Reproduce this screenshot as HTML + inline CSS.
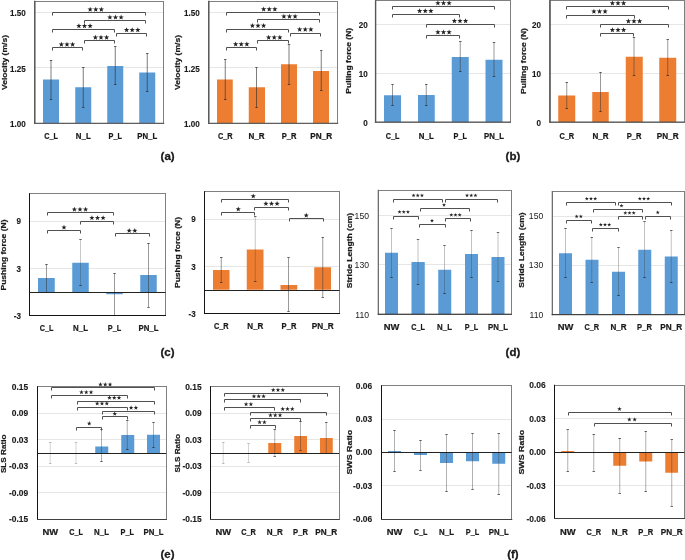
<!DOCTYPE html>
<html><head><meta charset="utf-8"><style>
html,body{margin:0;padding:0;background:#fff;}
svg{display:block;font-family:"Liberation Sans", sans-serif;will-change:transform;}
</style></head><body>
<svg width="685" height="560" viewBox="0 0 685 560">
<rect width="685" height="560" fill="#fff"/>
<line x1="34.50" y1="12.50" x2="163.75" y2="12.50" stroke="#e6e6e6" stroke-width="1"/>
<line x1="34.50" y1="67.50" x2="163.75" y2="67.50" stroke="#e6e6e6" stroke-width="1"/>
<rect x="43.00" y="79.50" width="16.00" height="43.75" fill="#5b9bd5"/>
<rect x="75.25" y="87.25" width="16.00" height="36.00" fill="#5b9bd5"/>
<rect x="107.25" y="66.00" width="16.00" height="57.25" fill="#5b9bd5"/>
<rect x="139.25" y="72.50" width="16.00" height="50.75" fill="#5b9bd5"/>
<line x1="51.00" y1="60.00" x2="51.00" y2="99.25" stroke="#303030" stroke-opacity="0.7" stroke-width="0.9"/>
<line x1="49.75" y1="60.50" x2="52.25" y2="60.50" stroke="#202020" stroke-opacity="0.65" stroke-width="1"/>
<line x1="49.75" y1="99.50" x2="52.25" y2="99.50" stroke="#202020" stroke-opacity="0.65" stroke-width="1"/>
<line x1="83.25" y1="67.25" x2="83.25" y2="107.00" stroke="#303030" stroke-opacity="0.7" stroke-width="0.9"/>
<line x1="82.00" y1="67.50" x2="84.50" y2="67.50" stroke="#202020" stroke-opacity="0.65" stroke-width="1"/>
<line x1="82.00" y1="107.50" x2="84.50" y2="107.50" stroke="#202020" stroke-opacity="0.65" stroke-width="1"/>
<line x1="115.25" y1="46.50" x2="115.25" y2="84.50" stroke="#303030" stroke-opacity="0.7" stroke-width="0.9"/>
<line x1="114.00" y1="46.50" x2="116.50" y2="46.50" stroke="#202020" stroke-opacity="0.65" stroke-width="1"/>
<line x1="114.00" y1="84.50" x2="116.50" y2="84.50" stroke="#202020" stroke-opacity="0.65" stroke-width="1"/>
<line x1="147.25" y1="53.25" x2="147.25" y2="91.50" stroke="#303030" stroke-opacity="0.7" stroke-width="0.9"/>
<line x1="146.00" y1="53.50" x2="148.50" y2="53.50" stroke="#202020" stroke-opacity="0.65" stroke-width="1"/>
<line x1="146.00" y1="91.50" x2="148.50" y2="91.50" stroke="#202020" stroke-opacity="0.65" stroke-width="1"/>
<rect x="34.50" y="1.50" width="129.00" height="122.00" fill="none" stroke="#7f7f7f" stroke-width="1"/>
<line x1="34.85" y1="0.75" x2="34.85" y2="123.80" stroke="#555555" stroke-width="1.4"/>
<line x1="34.15" y1="123.25" x2="164.25" y2="123.25" stroke="#555555" stroke-width="1.1"/>
<path d="M52.50 15.50V12.50H145.50V15.50" fill="none" stroke="#505050" stroke-width="1"/>
<polygon points="90.15,6.65 90.82,8.58 92.86,8.62 91.23,9.85 91.83,11.81 90.15,10.64 88.47,11.81 89.07,9.85 87.44,8.62 89.48,8.58" fill="#222222"/>
<polygon points="95.75,6.65 96.42,8.58 98.46,8.62 96.83,9.85 97.43,11.81 95.75,10.64 94.07,11.81 94.67,9.85 93.04,8.62 95.08,8.58" fill="#222222"/>
<polygon points="101.35,6.65 102.02,8.58 104.06,8.62 102.43,9.85 103.03,11.81 101.35,10.64 99.67,11.81 100.27,9.85 98.64,8.62 100.68,8.58" fill="#222222"/>
<path d="M84.50 23.50V20.50H145.50V23.50" fill="none" stroke="#505050" stroke-width="1"/>
<polygon points="109.90,14.45 110.57,16.38 112.61,16.42 110.98,17.65 111.58,19.61 109.90,18.44 108.22,19.61 108.82,17.65 107.19,16.42 109.23,16.38" fill="#222222"/>
<polygon points="115.50,14.45 116.17,16.38 118.21,16.42 116.58,17.65 117.18,19.61 115.50,18.44 113.82,19.61 114.42,17.65 112.79,16.42 114.83,16.38" fill="#222222"/>
<polygon points="121.10,14.45 121.77,16.38 123.81,16.42 122.18,17.65 122.78,19.61 121.10,18.44 119.42,19.61 120.02,17.65 118.39,16.42 120.43,16.38" fill="#222222"/>
<path d="M52.50 32.50V29.50H114.50V32.50" fill="none" stroke="#505050" stroke-width="1"/>
<polygon points="78.90,23.15 79.57,25.08 81.61,25.12 79.98,26.35 80.58,28.31 78.90,27.14 77.22,28.31 77.82,26.35 76.19,25.12 78.23,25.08" fill="#222222"/>
<polygon points="84.50,23.15 85.17,25.08 87.21,25.12 85.58,26.35 86.18,28.31 84.50,27.14 82.82,28.31 83.42,26.35 81.79,25.12 83.83,25.08" fill="#222222"/>
<polygon points="90.10,23.15 90.77,25.08 92.81,25.12 91.18,26.35 91.78,28.31 90.10,27.14 88.42,28.31 89.02,26.35 87.39,25.12 89.43,25.08" fill="#222222"/>
<path d="M116.50 36.50V33.50H146.50V36.50" fill="none" stroke="#505050" stroke-width="1"/>
<polygon points="126.60,27.15 127.27,29.08 129.31,29.12 127.68,30.35 128.28,32.31 126.60,31.14 124.92,32.31 125.52,30.35 123.89,29.12 125.93,29.08" fill="#222222"/>
<polygon points="132.20,27.15 132.87,29.08 134.91,29.12 133.28,30.35 133.88,32.31 132.20,31.14 130.52,32.31 131.12,30.35 129.49,29.12 131.53,29.08" fill="#222222"/>
<polygon points="137.80,27.15 138.47,29.08 140.51,29.12 138.88,30.35 139.48,32.31 137.80,31.14 136.12,32.31 136.72,30.35 135.09,29.12 137.13,29.08" fill="#222222"/>
<path d="M84.50 43.50V40.50H114.50V43.50" fill="none" stroke="#505050" stroke-width="1"/>
<polygon points="95.40,34.65 96.07,36.58 98.11,36.62 96.48,37.85 97.08,39.81 95.40,38.64 93.72,39.81 94.32,37.85 92.69,36.62 94.73,36.58" fill="#222222"/>
<polygon points="101.00,34.65 101.67,36.58 103.71,36.62 102.08,37.85 102.68,39.81 101.00,38.64 99.32,39.81 99.92,37.85 98.29,36.62 100.33,36.58" fill="#222222"/>
<polygon points="106.60,34.65 107.27,36.58 109.31,36.62 107.68,37.85 108.28,39.81 106.60,38.64 104.92,39.81 105.52,37.85 103.89,36.62 105.93,36.58" fill="#222222"/>
<path d="M52.50 50.50V47.50H82.50V50.50" fill="none" stroke="#505050" stroke-width="1"/>
<polygon points="61.40,41.65 62.07,43.58 64.11,43.62 62.48,44.85 63.08,46.81 61.40,45.64 59.72,46.81 60.32,44.85 58.69,43.62 60.73,43.58" fill="#222222"/>
<polygon points="67.00,41.65 67.67,43.58 69.71,43.62 68.08,44.85 68.68,46.81 67.00,45.64 65.32,46.81 65.92,44.85 64.29,43.62 66.33,43.58" fill="#222222"/>
<polygon points="72.60,41.65 73.27,43.58 75.31,43.62 73.68,44.85 74.28,46.81 72.60,45.64 70.92,46.81 71.52,44.85 69.89,43.62 71.93,43.58" fill="#222222"/>
<text transform="translate(25.75,15.80) scale(0.92,1)" font-size="8.8" text-anchor="end" font-weight="bold" fill="#1a1a1a" stroke="#1a1a1a" stroke-width="0.12">1.50</text>
<text transform="translate(25.75,71.55) scale(0.92,1)" font-size="8.8" text-anchor="end" font-weight="bold" fill="#1a1a1a" stroke="#1a1a1a" stroke-width="0.12">1.25</text>
<text transform="translate(25.75,127.05) scale(0.92,1)" font-size="8.8" text-anchor="end" font-weight="bold" fill="#1a1a1a" stroke="#1a1a1a" stroke-width="0.12">1.00</text>
<text transform="translate(6.50,62.50) rotate(-90) scale(1.067,1)" font-size="8.0" text-anchor="middle" font-weight="bold" fill="#1a1a1a" stroke="#1a1a1a" stroke-width="0.22">Velocity (m/s)</text>
<text transform="translate(51.00,138.95) scale(0.876,1)" font-size="8.3" text-anchor="middle" font-weight="bold" fill="#1a1a1a" stroke="#1a1a1a" stroke-width="0.22">C_L</text>
<text transform="translate(83.25,138.95) scale(0.949,1)" font-size="8.3" text-anchor="middle" font-weight="bold" fill="#1a1a1a" stroke="#1a1a1a" stroke-width="0.22">N_L</text>
<text transform="translate(115.25,138.95) scale(0.882,1)" font-size="8.3" text-anchor="middle" font-weight="bold" fill="#1a1a1a" stroke="#1a1a1a" stroke-width="0.22">P_L</text>
<text transform="translate(147.25,138.95) scale(0.941,1)" font-size="8.3" text-anchor="middle" font-weight="bold" fill="#1a1a1a" stroke="#1a1a1a" stroke-width="0.22">PN_L</text>
<line x1="208.50" y1="12.50" x2="337.75" y2="12.50" stroke="#e6e6e6" stroke-width="1"/>
<line x1="208.50" y1="67.50" x2="337.75" y2="67.50" stroke="#e6e6e6" stroke-width="1"/>
<rect x="217.00" y="79.50" width="15.75" height="43.75" fill="#ed7d31"/>
<rect x="248.75" y="87.25" width="16.25" height="36.00" fill="#ed7d31"/>
<rect x="281.00" y="64.25" width="16.00" height="59.00" fill="#ed7d31"/>
<rect x="313.00" y="71.00" width="16.00" height="52.25" fill="#ed7d31"/>
<line x1="225.25" y1="59.25" x2="225.25" y2="99.50" stroke="#303030" stroke-opacity="0.7" stroke-width="0.9"/>
<line x1="224.00" y1="59.50" x2="226.50" y2="59.50" stroke="#202020" stroke-opacity="0.65" stroke-width="1"/>
<line x1="224.00" y1="99.50" x2="226.50" y2="99.50" stroke="#202020" stroke-opacity="0.65" stroke-width="1"/>
<line x1="256.50" y1="67.75" x2="256.50" y2="107.50" stroke="#303030" stroke-opacity="0.7" stroke-width="0.9"/>
<line x1="255.25" y1="67.50" x2="257.75" y2="67.50" stroke="#202020" stroke-opacity="0.65" stroke-width="1"/>
<line x1="255.25" y1="107.50" x2="257.75" y2="107.50" stroke="#202020" stroke-opacity="0.65" stroke-width="1"/>
<line x1="289.00" y1="44.00" x2="289.00" y2="84.50" stroke="#303030" stroke-opacity="0.7" stroke-width="0.9"/>
<line x1="287.75" y1="44.50" x2="290.25" y2="44.50" stroke="#202020" stroke-opacity="0.65" stroke-width="1"/>
<line x1="287.75" y1="84.50" x2="290.25" y2="84.50" stroke="#202020" stroke-opacity="0.65" stroke-width="1"/>
<line x1="321.25" y1="50.50" x2="321.25" y2="90.50" stroke="#303030" stroke-opacity="0.7" stroke-width="0.9"/>
<line x1="320.00" y1="50.50" x2="322.50" y2="50.50" stroke="#202020" stroke-opacity="0.65" stroke-width="1"/>
<line x1="320.00" y1="90.50" x2="322.50" y2="90.50" stroke="#202020" stroke-opacity="0.65" stroke-width="1"/>
<rect x="208.50" y="1.50" width="129.00" height="122.00" fill="none" stroke="#7f7f7f" stroke-width="1"/>
<line x1="208.85" y1="0.75" x2="208.85" y2="123.80" stroke="#555555" stroke-width="1.4"/>
<line x1="208.15" y1="123.25" x2="338.25" y2="123.25" stroke="#555555" stroke-width="1.1"/>
<path d="M226.50 15.50V12.50H319.50V15.50" fill="none" stroke="#505050" stroke-width="1"/>
<polygon points="263.65,6.40 264.32,8.33 266.36,8.37 264.73,9.60 265.33,11.56 263.65,10.39 261.97,11.56 262.57,9.60 260.94,8.37 262.98,8.33" fill="#222222"/>
<polygon points="269.25,6.40 269.92,8.33 271.96,8.37 270.33,9.60 270.93,11.56 269.25,10.39 267.57,11.56 268.17,9.60 266.54,8.37 268.58,8.33" fill="#222222"/>
<polygon points="274.85,6.40 275.52,8.33 277.56,8.37 275.93,9.60 276.53,11.56 274.85,10.39 273.17,11.56 273.77,9.60 272.14,8.37 274.18,8.33" fill="#222222"/>
<path d="M257.50 22.50V19.50H319.50V22.50" fill="none" stroke="#505050" stroke-width="1"/>
<polygon points="283.90,13.65 284.57,15.58 286.61,15.62 284.98,16.85 285.58,18.81 283.90,17.64 282.22,18.81 282.82,16.85 281.19,15.62 283.23,15.58" fill="#222222"/>
<polygon points="289.50,13.65 290.17,15.58 292.21,15.62 290.58,16.85 291.18,18.81 289.50,17.64 287.82,18.81 288.42,16.85 286.79,15.62 288.83,15.58" fill="#222222"/>
<polygon points="295.10,13.65 295.77,15.58 297.81,15.62 296.18,16.85 296.78,18.81 295.10,17.64 293.42,18.81 294.02,16.85 292.39,15.62 294.43,15.58" fill="#222222"/>
<path d="M226.50 32.50V29.50H288.50V32.50" fill="none" stroke="#505050" stroke-width="1"/>
<polygon points="252.40,22.90 253.07,24.83 255.11,24.87 253.48,26.10 254.08,28.06 252.40,26.89 250.72,28.06 251.32,26.10 249.69,24.87 251.73,24.83" fill="#222222"/>
<polygon points="258.00,22.90 258.67,24.83 260.71,24.87 259.08,26.10 259.68,28.06 258.00,26.89 256.32,28.06 256.92,26.10 255.29,24.87 257.33,24.83" fill="#222222"/>
<polygon points="263.60,22.90 264.27,24.83 266.31,24.87 264.68,26.10 265.28,28.06 263.60,26.89 261.92,28.06 262.52,26.10 260.89,24.87 262.93,24.83" fill="#222222"/>
<path d="M290.50 36.50V33.50H320.50V36.50" fill="none" stroke="#505050" stroke-width="1"/>
<polygon points="299.65,26.65 300.32,28.58 302.36,28.62 300.73,29.85 301.33,31.81 299.65,30.64 297.97,31.81 298.57,29.85 296.94,28.62 298.98,28.58" fill="#222222"/>
<polygon points="305.25,26.65 305.92,28.58 307.96,28.62 306.33,29.85 306.93,31.81 305.25,30.64 303.57,31.81 304.17,29.85 302.54,28.62 304.58,28.58" fill="#222222"/>
<polygon points="310.85,26.65 311.52,28.58 313.56,28.62 311.93,29.85 312.53,31.81 310.85,30.64 309.17,31.81 309.77,29.85 308.14,28.62 310.18,28.58" fill="#222222"/>
<path d="M257.50 43.50V40.50H288.50V43.50" fill="none" stroke="#505050" stroke-width="1"/>
<polygon points="268.65,34.65 269.32,36.58 271.36,36.62 269.73,37.85 270.33,39.81 268.65,38.64 266.97,39.81 267.57,37.85 265.94,36.62 267.98,36.58" fill="#222222"/>
<polygon points="274.25,34.65 274.92,36.58 276.96,36.62 275.33,37.85 275.93,39.81 274.25,38.64 272.57,39.81 273.17,37.85 271.54,36.62 273.58,36.58" fill="#222222"/>
<polygon points="279.85,34.65 280.52,36.58 282.56,36.62 280.93,37.85 281.53,39.81 279.85,38.64 278.17,39.81 278.77,37.85 277.14,36.62 279.18,36.58" fill="#222222"/>
<path d="M226.50 50.50V47.50H256.50V50.50" fill="none" stroke="#505050" stroke-width="1"/>
<polygon points="235.65,41.40 236.32,43.33 238.36,43.37 236.73,44.60 237.33,46.56 235.65,45.39 233.97,46.56 234.57,44.60 232.94,43.37 234.98,43.33" fill="#222222"/>
<polygon points="241.25,41.40 241.92,43.33 243.96,43.37 242.33,44.60 242.93,46.56 241.25,45.39 239.57,46.56 240.17,44.60 238.54,43.37 240.58,43.33" fill="#222222"/>
<polygon points="246.85,41.40 247.52,43.33 249.56,43.37 247.93,44.60 248.53,46.56 246.85,45.39 245.17,46.56 245.77,44.60 244.14,43.37 246.18,43.33" fill="#222222"/>
<text transform="translate(199.75,15.80) scale(0.92,1)" font-size="8.8" text-anchor="end" font-weight="bold" fill="#1a1a1a" stroke="#1a1a1a" stroke-width="0.12">1.50</text>
<text transform="translate(199.75,71.55) scale(0.92,1)" font-size="8.8" text-anchor="end" font-weight="bold" fill="#1a1a1a" stroke="#1a1a1a" stroke-width="0.12">1.25</text>
<text transform="translate(199.75,127.05) scale(0.92,1)" font-size="8.8" text-anchor="end" font-weight="bold" fill="#1a1a1a" stroke="#1a1a1a" stroke-width="0.12">1.00</text>
<text transform="translate(180.00,62.50) rotate(-90) scale(1.067,1)" font-size="8.0" text-anchor="middle" font-weight="bold" fill="#1a1a1a" stroke="#1a1a1a" stroke-width="0.22">Velocity (m/s)</text>
<text transform="translate(225.25,138.95) scale(0.889,1)" font-size="8.3" text-anchor="middle" font-weight="bold" fill="#1a1a1a" stroke="#1a1a1a" stroke-width="0.22">C_R</text>
<text transform="translate(256.50,138.95) scale(0.971,1)" font-size="8.3" text-anchor="middle" font-weight="bold" fill="#1a1a1a" stroke="#1a1a1a" stroke-width="0.22">N_R</text>
<text transform="translate(289.00,138.95) scale(0.915,1)" font-size="8.3" text-anchor="middle" font-weight="bold" fill="#1a1a1a" stroke="#1a1a1a" stroke-width="0.22">P_R</text>
<text transform="translate(321.25,138.95) scale(0.986,1)" font-size="8.3" text-anchor="middle" font-weight="bold" fill="#1a1a1a" stroke="#1a1a1a" stroke-width="0.22">PN_R</text>
<line x1="375.25" y1="24.50" x2="510.50" y2="24.50" stroke="#e6e6e6" stroke-width="1"/>
<line x1="375.25" y1="73.50" x2="510.50" y2="73.50" stroke="#e6e6e6" stroke-width="1"/>
<rect x="384.00" y="95.25" width="17.00" height="26.75" fill="#5b9bd5"/>
<rect x="418.00" y="95.00" width="16.75" height="27.00" fill="#5b9bd5"/>
<rect x="451.75" y="57.00" width="17.00" height="65.00" fill="#5b9bd5"/>
<rect x="485.50" y="59.75" width="17.00" height="62.25" fill="#5b9bd5"/>
<line x1="392.50" y1="84.50" x2="392.50" y2="105.50" stroke="#303030" stroke-opacity="0.55" stroke-width="0.9"/>
<line x1="391.25" y1="84.50" x2="393.75" y2="84.50" stroke="#202020" stroke-opacity="0.65" stroke-width="1"/>
<line x1="391.25" y1="105.50" x2="393.75" y2="105.50" stroke="#202020" stroke-opacity="0.65" stroke-width="1"/>
<line x1="426.25" y1="84.25" x2="426.25" y2="105.50" stroke="#303030" stroke-opacity="0.55" stroke-width="0.9"/>
<line x1="425.00" y1="84.50" x2="427.50" y2="84.50" stroke="#202020" stroke-opacity="0.65" stroke-width="1"/>
<line x1="425.00" y1="105.50" x2="427.50" y2="105.50" stroke="#202020" stroke-opacity="0.65" stroke-width="1"/>
<line x1="460.25" y1="41.25" x2="460.25" y2="71.75" stroke="#303030" stroke-opacity="0.55" stroke-width="0.9"/>
<line x1="459.00" y1="41.50" x2="461.50" y2="41.50" stroke="#202020" stroke-opacity="0.65" stroke-width="1"/>
<line x1="459.00" y1="71.50" x2="461.50" y2="71.50" stroke="#202020" stroke-opacity="0.65" stroke-width="1"/>
<line x1="494.00" y1="42.25" x2="494.00" y2="76.50" stroke="#303030" stroke-opacity="0.55" stroke-width="0.9"/>
<line x1="492.75" y1="42.50" x2="495.25" y2="42.50" stroke="#202020" stroke-opacity="0.65" stroke-width="1"/>
<line x1="492.75" y1="76.50" x2="495.25" y2="76.50" stroke="#202020" stroke-opacity="0.65" stroke-width="1"/>
<rect x="375.50" y="0.50" width="135.00" height="122.00" fill="none" stroke="#7f7f7f" stroke-width="1"/>
<line x1="375.60" y1="0.25" x2="375.60" y2="122.55" stroke="#555555" stroke-width="1.4"/>
<line x1="374.90" y1="122.00" x2="511.00" y2="122.00" stroke="#555555" stroke-width="1.1"/>
<path d="M392.50 9.50V6.50H494.50V9.50" fill="none" stroke="#505050" stroke-width="1"/>
<polygon points="437.90,0.35 438.57,2.28 440.61,2.32 438.98,3.55 439.58,5.51 437.90,4.34 436.22,5.51 436.82,3.55 435.19,2.32 437.23,2.28" fill="#222222"/>
<polygon points="443.50,0.35 444.17,2.28 446.21,2.32 444.58,3.55 445.18,5.51 443.50,4.34 441.82,5.51 442.42,3.55 440.79,2.32 442.83,2.28" fill="#222222"/>
<polygon points="449.10,0.35 449.77,2.28 451.81,2.32 450.18,3.55 450.78,5.51 449.10,4.34 447.42,5.51 448.02,3.55 446.39,2.32 448.43,2.28" fill="#222222"/>
<path d="M392.50 17.50V14.50H459.50V17.50" fill="none" stroke="#505050" stroke-width="1"/>
<polygon points="419.65,8.15 420.32,10.08 422.36,10.12 420.73,11.35 421.33,13.31 419.65,12.14 417.97,13.31 418.57,11.35 416.94,10.12 418.98,10.08" fill="#222222"/>
<polygon points="425.25,8.15 425.92,10.08 427.96,10.12 426.33,11.35 426.93,13.31 425.25,12.14 423.57,13.31 424.17,11.35 422.54,10.12 424.58,10.08" fill="#222222"/>
<polygon points="430.85,8.15 431.52,10.08 433.56,10.12 431.93,11.35 432.53,13.31 430.85,12.14 429.17,13.31 429.77,11.35 428.14,10.12 430.18,10.08" fill="#222222"/>
<path d="M426.50 27.50V24.50H494.50V27.50" fill="none" stroke="#505050" stroke-width="1"/>
<polygon points="454.40,18.15 455.07,20.08 457.11,20.12 455.48,21.35 456.08,23.31 454.40,22.14 452.72,23.31 453.32,21.35 451.69,20.12 453.73,20.08" fill="#222222"/>
<polygon points="460.00,18.15 460.67,20.08 462.71,20.12 461.08,21.35 461.68,23.31 460.00,22.14 458.32,23.31 458.92,21.35 457.29,20.12 459.33,20.08" fill="#222222"/>
<polygon points="465.60,18.15 466.27,20.08 468.31,20.12 466.68,21.35 467.28,23.31 465.60,22.14 463.92,23.31 464.52,21.35 462.89,20.12 464.93,20.08" fill="#222222"/>
<path d="M426.50 38.50V35.50H459.50V38.50" fill="none" stroke="#505050" stroke-width="1"/>
<polygon points="437.90,29.40 438.57,31.33 440.61,31.37 438.98,32.60 439.58,34.56 437.90,33.39 436.22,34.56 436.82,32.60 435.19,31.37 437.23,31.33" fill="#222222"/>
<polygon points="443.50,29.40 444.17,31.33 446.21,31.37 444.58,32.60 445.18,34.56 443.50,33.39 441.82,34.56 442.42,32.60 440.79,31.37 442.83,31.33" fill="#222222"/>
<polygon points="449.10,29.40 449.77,31.33 451.81,31.37 450.18,32.60 450.78,34.56 449.10,33.39 447.42,34.56 448.02,32.60 446.39,31.37 448.43,31.33" fill="#222222"/>
<text transform="translate(367.75,28.05) scale(0.92,1)" font-size="8.8" text-anchor="end" font-weight="bold" fill="#1a1a1a" stroke="#1a1a1a" stroke-width="0.12">20</text>
<text transform="translate(367.75,77.05) scale(0.92,1)" font-size="8.8" text-anchor="end" font-weight="bold" fill="#1a1a1a" stroke="#1a1a1a" stroke-width="0.12">10</text>
<text transform="translate(367.75,125.80) scale(0.92,1)" font-size="8.8" text-anchor="end" font-weight="bold" fill="#1a1a1a" stroke="#1a1a1a" stroke-width="0.12">0</text>
<text transform="translate(351.25,60.75) rotate(-90) scale(1.067,1)" font-size="8.0" text-anchor="middle" font-weight="bold" fill="#1a1a1a" stroke="#1a1a1a" stroke-width="0.22">Pulling force (N)</text>
<text transform="translate(392.50,138.50) scale(0.876,1)" font-size="8.3" text-anchor="middle" font-weight="bold" fill="#1a1a1a" stroke="#1a1a1a" stroke-width="0.22">C_L</text>
<text transform="translate(426.25,138.50) scale(0.949,1)" font-size="8.3" text-anchor="middle" font-weight="bold" fill="#1a1a1a" stroke="#1a1a1a" stroke-width="0.22">N_L</text>
<text transform="translate(460.25,138.50) scale(0.882,1)" font-size="8.3" text-anchor="middle" font-weight="bold" fill="#1a1a1a" stroke="#1a1a1a" stroke-width="0.22">P_L</text>
<text transform="translate(494.00,138.50) scale(0.941,1)" font-size="8.3" text-anchor="middle" font-weight="bold" fill="#1a1a1a" stroke="#1a1a1a" stroke-width="0.22">PN_L</text>
<line x1="549.75" y1="24.50" x2="684.50" y2="24.50" stroke="#e6e6e6" stroke-width="1"/>
<line x1="549.75" y1="73.50" x2="684.50" y2="73.50" stroke="#e6e6e6" stroke-width="1"/>
<rect x="558.25" y="95.50" width="17.00" height="26.50" fill="#ed7d31"/>
<rect x="592.25" y="92.00" width="16.50" height="30.00" fill="#ed7d31"/>
<rect x="625.75" y="56.75" width="17.00" height="65.25" fill="#ed7d31"/>
<rect x="659.25" y="57.75" width="17.00" height="64.25" fill="#ed7d31"/>
<line x1="566.75" y1="82.25" x2="566.75" y2="108.25" stroke="#303030" stroke-opacity="0.55" stroke-width="0.9"/>
<line x1="565.50" y1="82.50" x2="568.00" y2="82.50" stroke="#202020" stroke-opacity="0.65" stroke-width="1"/>
<line x1="565.50" y1="108.50" x2="568.00" y2="108.50" stroke="#202020" stroke-opacity="0.65" stroke-width="1"/>
<line x1="600.50" y1="72.25" x2="600.50" y2="111.50" stroke="#303030" stroke-opacity="0.55" stroke-width="0.9"/>
<line x1="599.25" y1="72.50" x2="601.75" y2="72.50" stroke="#202020" stroke-opacity="0.65" stroke-width="1"/>
<line x1="599.25" y1="111.50" x2="601.75" y2="111.50" stroke="#202020" stroke-opacity="0.65" stroke-width="1"/>
<line x1="634.00" y1="37.00" x2="634.00" y2="75.50" stroke="#303030" stroke-opacity="0.55" stroke-width="0.9"/>
<line x1="632.75" y1="37.50" x2="635.25" y2="37.50" stroke="#202020" stroke-opacity="0.65" stroke-width="1"/>
<line x1="632.75" y1="75.50" x2="635.25" y2="75.50" stroke="#202020" stroke-opacity="0.65" stroke-width="1"/>
<line x1="667.75" y1="39.25" x2="667.75" y2="75.75" stroke="#303030" stroke-opacity="0.55" stroke-width="0.9"/>
<line x1="666.50" y1="39.50" x2="669.00" y2="39.50" stroke="#202020" stroke-opacity="0.65" stroke-width="1"/>
<line x1="666.50" y1="75.50" x2="669.00" y2="75.50" stroke="#202020" stroke-opacity="0.65" stroke-width="1"/>
<rect x="549.50" y="0.50" width="135.00" height="122.00" fill="none" stroke="#7f7f7f" stroke-width="1"/>
<line x1="550.10" y1="0.25" x2="550.10" y2="122.55" stroke="#555555" stroke-width="1.4"/>
<line x1="549.40" y1="122.00" x2="685.00" y2="122.00" stroke="#555555" stroke-width="1.1"/>
<path d="M566.50 9.50V6.50H668.50V9.50" fill="none" stroke="#505050" stroke-width="1"/>
<polygon points="612.40,0.40 613.07,2.33 615.11,2.37 613.48,3.60 614.08,5.56 612.40,4.39 610.72,5.56 611.32,3.60 609.69,2.37 611.73,2.33" fill="#222222"/>
<polygon points="618.00,0.40 618.67,2.33 620.71,2.37 619.08,3.60 619.68,5.56 618.00,4.39 616.32,5.56 616.92,3.60 615.29,2.37 617.33,2.33" fill="#222222"/>
<polygon points="623.60,0.40 624.27,2.33 626.31,2.37 624.68,3.60 625.28,5.56 623.60,4.39 621.92,5.56 622.52,3.60 620.89,2.37 622.93,2.33" fill="#222222"/>
<path d="M566.50 18.50V15.50H634.50V18.50" fill="none" stroke="#505050" stroke-width="1"/>
<polygon points="593.90,8.65 594.57,10.58 596.61,10.62 594.98,11.85 595.58,13.81 593.90,12.64 592.22,13.81 592.82,11.85 591.19,10.62 593.23,10.58" fill="#222222"/>
<polygon points="599.50,8.65 600.17,10.58 602.21,10.62 600.58,11.85 601.18,13.81 599.50,12.64 597.82,13.81 598.42,11.85 596.79,10.62 598.83,10.58" fill="#222222"/>
<polygon points="605.10,8.65 605.77,10.58 607.81,10.62 606.18,11.85 606.78,13.81 605.10,12.64 603.42,13.81 604.02,11.85 602.39,10.62 604.43,10.58" fill="#222222"/>
<path d="M600.50 27.50V24.50H668.50V27.50" fill="none" stroke="#505050" stroke-width="1"/>
<polygon points="628.40,18.40 629.07,20.33 631.11,20.37 629.48,21.60 630.08,23.56 628.40,22.39 626.72,23.56 627.32,21.60 625.69,20.37 627.73,20.33" fill="#222222"/>
<polygon points="634.00,18.40 634.67,20.33 636.71,20.37 635.08,21.60 635.68,23.56 634.00,22.39 632.32,23.56 632.92,21.60 631.29,20.37 633.33,20.33" fill="#222222"/>
<polygon points="639.60,18.40 640.27,20.33 642.31,20.37 640.68,21.60 641.28,23.56 639.60,22.39 637.92,23.56 638.52,21.60 636.89,20.37 638.93,20.33" fill="#222222"/>
<path d="M600.50 36.50V33.50H633.50V36.50" fill="none" stroke="#505050" stroke-width="1"/>
<polygon points="612.40,27.15 613.07,29.08 615.11,29.12 613.48,30.35 614.08,32.31 612.40,31.14 610.72,32.31 611.32,30.35 609.69,29.12 611.73,29.08" fill="#222222"/>
<polygon points="618.00,27.15 618.67,29.08 620.71,29.12 619.08,30.35 619.68,32.31 618.00,31.14 616.32,32.31 616.92,30.35 615.29,29.12 617.33,29.08" fill="#222222"/>
<polygon points="623.60,27.15 624.27,29.08 626.31,29.12 624.68,30.35 625.28,32.31 623.60,31.14 621.92,32.31 622.52,30.35 620.89,29.12 622.93,29.08" fill="#222222"/>
<text transform="translate(541.00,28.30) scale(0.92,1)" font-size="8.8" text-anchor="end" font-weight="bold" fill="#1a1a1a" stroke="#1a1a1a" stroke-width="0.12">20</text>
<text transform="translate(541.00,77.05) scale(0.92,1)" font-size="8.8" text-anchor="end" font-weight="bold" fill="#1a1a1a" stroke="#1a1a1a" stroke-width="0.12">10</text>
<text transform="translate(541.00,125.80) scale(0.92,1)" font-size="8.8" text-anchor="end" font-weight="bold" fill="#1a1a1a" stroke="#1a1a1a" stroke-width="0.12">0</text>
<text transform="translate(526.00,61.00) rotate(-90) scale(1.067,1)" font-size="8.0" text-anchor="middle" font-weight="bold" fill="#1a1a1a" stroke="#1a1a1a" stroke-width="0.22">Pulling force (N)</text>
<text transform="translate(566.75,138.50) scale(0.889,1)" font-size="8.3" text-anchor="middle" font-weight="bold" fill="#1a1a1a" stroke="#1a1a1a" stroke-width="0.22">C_R</text>
<text transform="translate(600.50,138.50) scale(0.971,1)" font-size="8.3" text-anchor="middle" font-weight="bold" fill="#1a1a1a" stroke="#1a1a1a" stroke-width="0.22">N_R</text>
<text transform="translate(634.00,138.50) scale(0.915,1)" font-size="8.3" text-anchor="middle" font-weight="bold" fill="#1a1a1a" stroke="#1a1a1a" stroke-width="0.22">P_R</text>
<text transform="translate(667.75,138.50) scale(0.986,1)" font-size="8.3" text-anchor="middle" font-weight="bold" fill="#1a1a1a" stroke="#1a1a1a" stroke-width="0.22">PN_R</text>
<line x1="29.50" y1="221.50" x2="165.50" y2="221.50" stroke="#e6e6e6" stroke-width="1"/>
<line x1="29.50" y1="268.50" x2="165.50" y2="268.50" stroke="#e6e6e6" stroke-width="1"/>
<rect x="38.00" y="278.00" width="16.75" height="14.00" fill="#5b9bd5"/>
<rect x="72.25" y="262.75" width="16.50" height="29.25" fill="#5b9bd5"/>
<rect x="106.25" y="292.00" width="16.50" height="2.25" fill="#5b9bd5"/>
<rect x="140.25" y="275.00" width="16.50" height="17.00" fill="#5b9bd5"/>
<line x1="46.50" y1="264.25" x2="46.50" y2="292.00" stroke="#303030" stroke-opacity="0.55" stroke-width="0.9"/>
<line x1="45.25" y1="264.50" x2="47.75" y2="264.50" stroke="#202020" stroke-opacity="0.65" stroke-width="1"/>
<line x1="45.25" y1="292.50" x2="47.75" y2="292.50" stroke="#202020" stroke-opacity="0.65" stroke-width="1"/>
<line x1="80.50" y1="239.25" x2="80.50" y2="285.50" stroke="#303030" stroke-opacity="0.3" stroke-width="0.9"/>
<line x1="79.25" y1="239.50" x2="81.75" y2="239.50" stroke="#202020" stroke-opacity="0.65" stroke-width="1"/>
<line x1="79.25" y1="285.50" x2="81.75" y2="285.50" stroke="#202020" stroke-opacity="0.65" stroke-width="1"/>
<line x1="114.50" y1="273.25" x2="114.50" y2="315.50" stroke="#303030" stroke-opacity="0.55" stroke-width="0.9"/>
<line x1="113.25" y1="273.50" x2="115.75" y2="273.50" stroke="#202020" stroke-opacity="0.65" stroke-width="1"/>
<line x1="113.25" y1="315.50" x2="115.75" y2="315.50" stroke="#202020" stroke-opacity="0.65" stroke-width="1"/>
<line x1="148.50" y1="243.00" x2="148.50" y2="307.00" stroke="#303030" stroke-opacity="0.55" stroke-width="0.9"/>
<line x1="147.25" y1="243.50" x2="149.75" y2="243.50" stroke="#202020" stroke-opacity="0.65" stroke-width="1"/>
<line x1="147.25" y1="307.50" x2="149.75" y2="307.50" stroke="#202020" stroke-opacity="0.65" stroke-width="1"/>
<rect x="29.50" y="193.50" width="136.00" height="122.00" fill="none" stroke="#7f7f7f" stroke-width="1"/>
<line x1="29.50" y1="193.25" x2="29.50" y2="316.00" stroke="#141414" stroke-width="1"/>
<line x1="29.00" y1="315.50" x2="166.00" y2="315.50" stroke="#141414" stroke-width="1"/>
<line x1="29.50" y1="292.50" x2="165.50" y2="292.50" stroke="#222222" stroke-width="1"/>
<path d="M47.50 215.50V212.50H113.50V215.50" fill="none" stroke="#505050" stroke-width="1"/>
<polygon points="74.40,206.75 75.05,208.61 77.02,208.65 75.45,209.84 76.02,211.72 74.40,210.60 72.78,211.72 73.35,209.84 71.78,208.65 73.75,208.61" fill="#222222"/>
<polygon points="80.00,206.75 80.65,208.61 82.62,208.65 81.05,209.84 81.62,211.72 80.00,210.60 78.38,211.72 78.95,209.84 77.38,208.65 79.35,208.61" fill="#222222"/>
<polygon points="85.60,206.75 86.25,208.61 88.22,208.65 86.65,209.84 87.22,211.72 85.60,210.60 83.98,211.72 84.55,209.84 82.98,208.65 84.95,208.61" fill="#222222"/>
<path d="M80.50 224.50V221.50H113.50V224.50" fill="none" stroke="#505050" stroke-width="1"/>
<polygon points="91.90,215.25 92.55,217.11 94.52,217.15 92.95,218.34 93.52,220.22 91.90,219.10 90.28,220.22 90.85,218.34 89.28,217.15 91.25,217.11" fill="#222222"/>
<polygon points="97.50,215.25 98.15,217.11 100.12,217.15 98.55,218.34 99.12,220.22 97.50,219.10 95.88,220.22 96.45,218.34 94.88,217.15 96.85,217.11" fill="#222222"/>
<polygon points="103.10,215.25 103.75,217.11 105.72,217.15 104.15,218.34 104.72,220.22 103.10,219.10 101.48,220.22 102.05,218.34 100.48,217.15 102.45,217.11" fill="#222222"/>
<path d="M47.50 233.50V230.50H80.50V233.50" fill="none" stroke="#505050" stroke-width="1"/>
<polygon points="64.00,224.75 64.65,226.61 66.62,226.65 65.05,227.84 65.62,229.72 64.00,228.60 62.38,229.72 62.95,227.84 61.38,226.65 63.35,226.61" fill="#222222"/>
<path d="M115.50 236.50V233.50H149.50V236.50" fill="none" stroke="#505050" stroke-width="1"/>
<polygon points="129.20,228.00 129.85,229.86 131.82,229.90 130.25,231.09 130.82,232.97 129.20,231.85 127.58,232.97 128.15,231.09 126.58,229.90 128.55,229.86" fill="#222222"/>
<polygon points="134.80,228.00 135.45,229.86 137.42,229.90 135.85,231.09 136.42,232.97 134.80,231.85 133.18,232.97 133.75,231.09 132.18,229.90 134.15,229.86" fill="#222222"/>
<text transform="translate(21.00,224.30) scale(0.92,1)" font-size="8.8" text-anchor="end" font-weight="bold" fill="#1a1a1a" stroke="#1a1a1a" stroke-width="0.12">9</text>
<text transform="translate(21.00,271.60) scale(0.92,1)" font-size="8.8" text-anchor="end" font-weight="bold" fill="#1a1a1a" stroke="#1a1a1a" stroke-width="0.12">3</text>
<text transform="translate(21.00,319.00) scale(0.92,1)" font-size="8.8" text-anchor="end" font-weight="bold" fill="#1a1a1a" stroke="#1a1a1a" stroke-width="0.12">-3</text>
<text transform="translate(5.75,255.00) rotate(-90) scale(1.067,1)" font-size="8.0" text-anchor="middle" font-weight="bold" fill="#1a1a1a" stroke="#1a1a1a" stroke-width="0.22">Pushing force (N)</text>
<text transform="translate(46.50,331.35) scale(0.821,1)" font-size="8.85" text-anchor="middle" font-weight="bold" fill="#1a1a1a" stroke="#1a1a1a" stroke-width="0.22">C_L</text>
<text transform="translate(80.50,331.35) scale(0.89,1)" font-size="8.85" text-anchor="middle" font-weight="bold" fill="#1a1a1a" stroke="#1a1a1a" stroke-width="0.22">N_L</text>
<text transform="translate(114.50,331.35) scale(0.827,1)" font-size="8.85" text-anchor="middle" font-weight="bold" fill="#1a1a1a" stroke="#1a1a1a" stroke-width="0.22">P_L</text>
<text transform="translate(148.50,331.35) scale(0.883,1)" font-size="8.85" text-anchor="middle" font-weight="bold" fill="#1a1a1a" stroke="#1a1a1a" stroke-width="0.22">PN_L</text>
<line x1="204.50" y1="219.50" x2="339.50" y2="219.50" stroke="#e6e6e6" stroke-width="1"/>
<line x1="204.50" y1="266.50" x2="339.50" y2="266.50" stroke="#e6e6e6" stroke-width="1"/>
<rect x="213.00" y="270.00" width="16.50" height="19.75" fill="#ed7d31"/>
<rect x="246.75" y="249.50" width="16.75" height="40.25" fill="#ed7d31"/>
<rect x="280.50" y="285.00" width="16.75" height="4.75" fill="#ed7d31"/>
<rect x="314.25" y="267.25" width="16.75" height="22.50" fill="#ed7d31"/>
<line x1="221.25" y1="257.25" x2="221.25" y2="282.50" stroke="#303030" stroke-opacity="0.55" stroke-width="0.9"/>
<line x1="220.00" y1="257.50" x2="222.50" y2="257.50" stroke="#202020" stroke-opacity="0.65" stroke-width="1"/>
<line x1="220.00" y1="282.50" x2="222.50" y2="282.50" stroke="#202020" stroke-opacity="0.65" stroke-width="1"/>
<line x1="255.25" y1="216.75" x2="255.25" y2="281.25" stroke="#303030" stroke-opacity="0.3" stroke-width="0.9"/>
<line x1="254.00" y1="216.50" x2="256.50" y2="216.50" stroke="#202020" stroke-opacity="0.65" stroke-width="1"/>
<line x1="254.00" y1="281.50" x2="256.50" y2="281.50" stroke="#202020" stroke-opacity="0.65" stroke-width="1"/>
<line x1="288.50" y1="257.75" x2="288.50" y2="311.25" stroke="#303030" stroke-opacity="0.55" stroke-width="0.9"/>
<line x1="287.25" y1="257.50" x2="289.75" y2="257.50" stroke="#202020" stroke-opacity="0.65" stroke-width="1"/>
<line x1="287.25" y1="311.50" x2="289.75" y2="311.50" stroke="#202020" stroke-opacity="0.65" stroke-width="1"/>
<line x1="322.75" y1="237.25" x2="322.75" y2="297.00" stroke="#303030" stroke-opacity="0.55" stroke-width="0.9"/>
<line x1="321.50" y1="237.50" x2="324.00" y2="237.50" stroke="#202020" stroke-opacity="0.65" stroke-width="1"/>
<line x1="321.50" y1="297.50" x2="324.00" y2="297.50" stroke="#202020" stroke-opacity="0.65" stroke-width="1"/>
<rect x="204.50" y="191.50" width="135.00" height="122.00" fill="none" stroke="#7f7f7f" stroke-width="1"/>
<line x1="204.50" y1="191.25" x2="204.50" y2="314.00" stroke="#141414" stroke-width="1"/>
<line x1="204.00" y1="313.50" x2="340.00" y2="313.50" stroke="#141414" stroke-width="1"/>
<line x1="204.50" y1="290.50" x2="339.50" y2="290.50" stroke="#222222" stroke-width="1"/>
<path d="M221.50 202.50V199.50H288.50V202.50" fill="none" stroke="#505050" stroke-width="1"/>
<polygon points="253.25,193.50 253.90,195.36 255.87,195.40 254.30,196.59 254.87,198.47 253.25,197.35 251.63,198.47 252.20,196.59 250.63,195.40 252.60,195.36" fill="#222222"/>
<path d="M254.50 210.50V207.50H288.50V210.50" fill="none" stroke="#505050" stroke-width="1"/>
<polygon points="265.90,201.00 266.55,202.86 268.52,202.90 266.95,204.09 267.52,205.97 265.90,204.85 264.28,205.97 264.85,204.09 263.28,202.90 265.25,202.86" fill="#222222"/>
<polygon points="271.50,201.00 272.15,202.86 274.12,202.90 272.55,204.09 273.12,205.97 271.50,204.85 269.88,205.97 270.45,204.09 268.88,202.90 270.85,202.86" fill="#222222"/>
<polygon points="277.10,201.00 277.75,202.86 279.72,202.90 278.15,204.09 278.72,205.97 277.10,204.85 275.48,205.97 276.05,204.09 274.48,202.90 276.45,202.86" fill="#222222"/>
<path d="M221.50 215.50V212.50H254.50V215.50" fill="none" stroke="#505050" stroke-width="1"/>
<polygon points="238.25,206.50 238.90,208.36 240.87,208.40 239.30,209.59 239.87,211.47 238.25,210.35 236.63,211.47 237.20,209.59 235.63,208.40 237.60,208.36" fill="#222222"/>
<path d="M289.50 221.50V218.50H323.50V221.50" fill="none" stroke="#505050" stroke-width="1"/>
<polygon points="306.25,212.75 306.90,214.61 308.87,214.65 307.30,215.84 307.87,217.72 306.25,216.60 304.63,217.72 305.20,215.84 303.63,214.65 305.60,214.61" fill="#222222"/>
<text transform="translate(195.80,222.20) scale(0.92,1)" font-size="8.8" text-anchor="end" font-weight="bold" fill="#1a1a1a" stroke="#1a1a1a" stroke-width="0.12">9</text>
<text transform="translate(195.80,269.95) scale(0.92,1)" font-size="8.8" text-anchor="end" font-weight="bold" fill="#1a1a1a" stroke="#1a1a1a" stroke-width="0.12">3</text>
<text transform="translate(195.80,317.00) scale(0.92,1)" font-size="8.8" text-anchor="end" font-weight="bold" fill="#1a1a1a" stroke="#1a1a1a" stroke-width="0.12">-3</text>
<text transform="translate(179.50,252.50) rotate(-90) scale(1.067,1)" font-size="8.0" text-anchor="middle" font-weight="bold" fill="#1a1a1a" stroke="#1a1a1a" stroke-width="0.22">Pushing force (N)</text>
<text transform="translate(221.25,329.45) scale(0.834,1)" font-size="8.85" text-anchor="middle" font-weight="bold" fill="#1a1a1a" stroke="#1a1a1a" stroke-width="0.22">C_R</text>
<text transform="translate(255.25,329.45) scale(0.911,1)" font-size="8.85" text-anchor="middle" font-weight="bold" fill="#1a1a1a" stroke="#1a1a1a" stroke-width="0.22">N_R</text>
<text transform="translate(289.00,329.45) scale(0.858,1)" font-size="8.85" text-anchor="middle" font-weight="bold" fill="#1a1a1a" stroke="#1a1a1a" stroke-width="0.22">P_R</text>
<text transform="translate(322.75,329.45) scale(0.925,1)" font-size="8.85" text-anchor="middle" font-weight="bold" fill="#1a1a1a" stroke="#1a1a1a" stroke-width="0.22">PN_R</text>
<line x1="378.25" y1="215.50" x2="511.25" y2="215.50" stroke="#e6e6e6" stroke-width="1"/>
<line x1="378.25" y1="264.50" x2="511.25" y2="264.50" stroke="#e6e6e6" stroke-width="1"/>
<rect x="385.00" y="252.75" width="13.00" height="61.25" fill="#5b9bd5"/>
<rect x="411.50" y="262.00" width="13.25" height="52.00" fill="#5b9bd5"/>
<rect x="438.25" y="269.75" width="13.00" height="44.25" fill="#5b9bd5"/>
<rect x="465.00" y="254.00" width="13.00" height="60.00" fill="#5b9bd5"/>
<rect x="491.50" y="257.00" width="13.00" height="57.00" fill="#5b9bd5"/>
<line x1="391.50" y1="228.00" x2="391.50" y2="277.25" stroke="#303030" stroke-opacity="0.33" stroke-width="0.9"/>
<line x1="390.25" y1="228.50" x2="392.75" y2="228.50" stroke="#202020" stroke-opacity="0.65" stroke-width="1"/>
<line x1="390.25" y1="277.50" x2="392.75" y2="277.50" stroke="#202020" stroke-opacity="0.65" stroke-width="1"/>
<line x1="418.00" y1="239.25" x2="418.00" y2="284.50" stroke="#303030" stroke-opacity="0.33" stroke-width="0.9"/>
<line x1="416.75" y1="239.50" x2="419.25" y2="239.50" stroke="#202020" stroke-opacity="0.65" stroke-width="1"/>
<line x1="416.75" y1="284.50" x2="419.25" y2="284.50" stroke="#202020" stroke-opacity="0.65" stroke-width="1"/>
<line x1="444.50" y1="245.25" x2="444.50" y2="293.75" stroke="#303030" stroke-opacity="0.33" stroke-width="0.9"/>
<line x1="443.25" y1="245.50" x2="445.75" y2="245.50" stroke="#202020" stroke-opacity="0.65" stroke-width="1"/>
<line x1="443.25" y1="293.50" x2="445.75" y2="293.50" stroke="#202020" stroke-opacity="0.65" stroke-width="1"/>
<line x1="471.50" y1="230.25" x2="471.50" y2="277.50" stroke="#303030" stroke-opacity="0.33" stroke-width="0.9"/>
<line x1="470.25" y1="230.50" x2="472.75" y2="230.50" stroke="#202020" stroke-opacity="0.65" stroke-width="1"/>
<line x1="470.25" y1="277.50" x2="472.75" y2="277.50" stroke="#202020" stroke-opacity="0.65" stroke-width="1"/>
<line x1="498.00" y1="232.25" x2="498.00" y2="281.25" stroke="#303030" stroke-opacity="0.33" stroke-width="0.9"/>
<line x1="496.75" y1="232.50" x2="499.25" y2="232.50" stroke="#202020" stroke-opacity="0.65" stroke-width="1"/>
<line x1="496.75" y1="281.50" x2="499.25" y2="281.50" stroke="#202020" stroke-opacity="0.65" stroke-width="1"/>
<rect x="378.50" y="190.50" width="133.00" height="124.00" fill="none" stroke="#7f7f7f" stroke-width="1"/>
<line x1="378.35" y1="189.75" x2="378.35" y2="314.70" stroke="#6e6e6e" stroke-width="1.3"/>
<line x1="377.70" y1="314.20" x2="511.75" y2="314.20" stroke="#333333" stroke-width="1.0"/>
<path d="M393.50 202.50V199.50H442.50V202.50" fill="none" stroke="#505050" stroke-width="1"/>
<polygon points="413.55,193.40 414.04,194.82 415.55,194.85 414.35,195.76 414.78,197.20 413.55,196.34 412.32,197.20 412.75,195.76 411.55,194.85 413.06,194.82" fill="#222222"/>
<polygon points="417.75,193.40 418.24,194.82 419.75,194.85 418.55,195.76 418.98,197.20 417.75,196.34 416.52,197.20 416.95,195.76 415.75,194.85 417.26,194.82" fill="#222222"/>
<polygon points="421.95,193.40 422.44,194.82 423.95,194.85 422.75,195.76 423.18,197.20 421.95,196.34 420.72,197.20 421.15,195.76 419.95,194.85 421.46,194.82" fill="#222222"/>
<path d="M445.50 202.50V199.50H497.50V202.50" fill="none" stroke="#505050" stroke-width="1"/>
<polygon points="467.05,193.40 467.54,194.82 469.05,194.85 467.85,195.76 468.28,197.20 467.05,196.34 465.82,197.20 466.25,195.76 465.05,194.85 466.56,194.82" fill="#222222"/>
<polygon points="471.25,193.40 471.74,194.82 473.25,194.85 472.05,195.76 472.48,197.20 471.25,196.34 470.02,197.20 470.45,195.76 469.25,194.85 470.76,194.82" fill="#222222"/>
<polygon points="475.45,193.40 475.94,194.82 477.45,194.85 476.25,195.76 476.68,197.20 475.45,196.34 474.22,197.20 474.65,195.76 473.45,194.85 474.96,194.82" fill="#222222"/>
<path d="M420.50 211.50V208.50H469.50V211.50" fill="none" stroke="#505050" stroke-width="1"/>
<polygon points="444.00,202.90 444.49,204.32 446.00,204.35 444.80,205.26 445.23,206.70 444.00,205.84 442.77,206.70 443.20,205.26 442.00,204.35 443.51,204.32" fill="#222222"/>
<path d="M393.50 219.50V216.50H418.50V219.50" fill="none" stroke="#505050" stroke-width="1"/>
<polygon points="399.55,209.90 400.04,211.32 401.55,211.35 400.35,212.26 400.78,213.70 399.55,212.84 398.32,213.70 398.75,212.26 397.55,211.35 399.06,211.32" fill="#222222"/>
<polygon points="403.75,209.90 404.24,211.32 405.75,211.35 404.55,212.26 404.98,213.70 403.75,212.84 402.52,213.70 402.95,212.26 401.75,211.35 403.26,211.32" fill="#222222"/>
<polygon points="407.95,209.90 408.44,211.32 409.95,211.35 408.75,212.26 409.18,213.70 407.95,212.84 406.72,213.70 407.15,212.26 405.95,211.35 407.46,211.32" fill="#222222"/>
<path d="M445.50 221.50V218.50H470.50V221.50" fill="none" stroke="#505050" stroke-width="1"/>
<polygon points="451.30,212.90 451.79,214.32 453.30,214.35 452.10,215.26 452.53,216.70 451.30,215.84 450.07,216.70 450.50,215.26 449.30,214.35 450.81,214.32" fill="#222222"/>
<polygon points="455.50,212.90 455.99,214.32 457.50,214.35 456.30,215.26 456.73,216.70 455.50,215.84 454.27,216.70 454.70,215.26 453.50,214.35 455.01,214.32" fill="#222222"/>
<polygon points="459.70,212.90 460.19,214.32 461.70,214.35 460.50,215.26 460.93,216.70 459.70,215.84 458.47,216.70 458.90,215.26 457.70,214.35 459.21,214.32" fill="#222222"/>
<path d="M419.50 227.50V224.50H445.50V227.50" fill="none" stroke="#505050" stroke-width="1"/>
<polygon points="432.00,218.65 432.49,220.07 434.00,220.10 432.80,221.01 433.23,222.45 432.00,221.59 430.77,222.45 431.20,221.01 430.00,220.10 431.51,220.07" fill="#222222"/>
<text transform="translate(369.00,219.00) scale(0.98,1)" font-size="8.8" text-anchor="end" font-weight="normal" fill="#1a1a1a" >150</text>
<text transform="translate(369.00,268.40) scale(0.98,1)" font-size="8.8" text-anchor="end" font-weight="normal" fill="#1a1a1a" >130</text>
<text transform="translate(369.00,317.50) scale(0.98,1)" font-size="8.8" text-anchor="end" font-weight="normal" fill="#1a1a1a" >110</text>
<text transform="translate(351.75,250.60) rotate(-90) scale(1.067,1)" font-size="8.0" text-anchor="middle" font-weight="bold" fill="#1a1a1a" stroke="#1a1a1a" stroke-width="0.22">Stride Length (cm)</text>
<text transform="translate(391.50,329.85) scale(1.061,1)" font-size="8.85" text-anchor="middle" font-weight="bold" fill="#1a1a1a" stroke="#1a1a1a" stroke-width="0.22">NW</text>
<text transform="translate(418.00,329.85) scale(0.821,1)" font-size="8.85" text-anchor="middle" font-weight="bold" fill="#1a1a1a" stroke="#1a1a1a" stroke-width="0.22">C_L</text>
<text transform="translate(444.50,329.85) scale(0.89,1)" font-size="8.85" text-anchor="middle" font-weight="bold" fill="#1a1a1a" stroke="#1a1a1a" stroke-width="0.22">N_L</text>
<text transform="translate(471.50,329.85) scale(0.827,1)" font-size="8.85" text-anchor="middle" font-weight="bold" fill="#1a1a1a" stroke="#1a1a1a" stroke-width="0.22">P_L</text>
<text transform="translate(498.00,329.85) scale(0.883,1)" font-size="8.85" text-anchor="middle" font-weight="bold" fill="#1a1a1a" stroke="#1a1a1a" stroke-width="0.22">PN_L</text>
<line x1="552.25" y1="216.50" x2="684.50" y2="216.50" stroke="#e6e6e6" stroke-width="1"/>
<line x1="552.25" y1="265.50" x2="684.50" y2="265.50" stroke="#e6e6e6" stroke-width="1"/>
<rect x="559.00" y="253.25" width="13.00" height="61.25" fill="#5b9bd5"/>
<rect x="585.50" y="259.75" width="13.00" height="54.75" fill="#5b9bd5"/>
<rect x="612.00" y="271.75" width="13.00" height="42.75" fill="#5b9bd5"/>
<rect x="638.25" y="249.75" width="13.00" height="64.75" fill="#5b9bd5"/>
<rect x="664.75" y="256.50" width="13.00" height="58.00" fill="#5b9bd5"/>
<line x1="565.50" y1="228.25" x2="565.50" y2="277.50" stroke="#303030" stroke-opacity="0.33" stroke-width="0.9"/>
<line x1="564.25" y1="228.50" x2="566.75" y2="228.50" stroke="#202020" stroke-opacity="0.65" stroke-width="1"/>
<line x1="564.25" y1="277.50" x2="566.75" y2="277.50" stroke="#202020" stroke-opacity="0.65" stroke-width="1"/>
<line x1="591.75" y1="237.25" x2="591.75" y2="282.50" stroke="#303030" stroke-opacity="0.33" stroke-width="0.9"/>
<line x1="590.50" y1="237.50" x2="593.00" y2="237.50" stroke="#202020" stroke-opacity="0.65" stroke-width="1"/>
<line x1="590.50" y1="282.50" x2="593.00" y2="282.50" stroke="#202020" stroke-opacity="0.65" stroke-width="1"/>
<line x1="618.50" y1="247.50" x2="618.50" y2="295.75" stroke="#303030" stroke-opacity="0.33" stroke-width="0.9"/>
<line x1="617.25" y1="247.50" x2="619.75" y2="247.50" stroke="#202020" stroke-opacity="0.65" stroke-width="1"/>
<line x1="617.25" y1="295.50" x2="619.75" y2="295.50" stroke="#202020" stroke-opacity="0.65" stroke-width="1"/>
<line x1="644.50" y1="221.50" x2="644.50" y2="277.50" stroke="#303030" stroke-opacity="0.33" stroke-width="0.9"/>
<line x1="643.25" y1="221.50" x2="645.75" y2="221.50" stroke="#202020" stroke-opacity="0.65" stroke-width="1"/>
<line x1="643.25" y1="277.50" x2="645.75" y2="277.50" stroke="#202020" stroke-opacity="0.65" stroke-width="1"/>
<line x1="671.25" y1="230.25" x2="671.25" y2="282.25" stroke="#303030" stroke-opacity="0.33" stroke-width="0.9"/>
<line x1="670.00" y1="230.50" x2="672.50" y2="230.50" stroke="#202020" stroke-opacity="0.65" stroke-width="1"/>
<line x1="670.00" y1="282.50" x2="672.50" y2="282.50" stroke="#202020" stroke-opacity="0.65" stroke-width="1"/>
<rect x="552.50" y="191.50" width="132.00" height="123.00" fill="none" stroke="#7f7f7f" stroke-width="1"/>
<line x1="552.35" y1="191.00" x2="552.35" y2="315.20" stroke="#6e6e6e" stroke-width="1.3"/>
<line x1="551.70" y1="314.70" x2="685.00" y2="314.70" stroke="#333333" stroke-width="1.0"/>
<path d="M566.50 205.50V202.50H615.50V205.50" fill="none" stroke="#505050" stroke-width="1"/>
<polygon points="586.80,196.65 587.29,198.07 588.80,198.10 587.60,199.01 588.03,200.45 586.80,199.59 585.57,200.45 586.00,199.01 584.80,198.10 586.31,198.07" fill="#222222"/>
<polygon points="591.00,196.65 591.49,198.07 593.00,198.10 591.80,199.01 592.23,200.45 591.00,199.59 589.77,200.45 590.20,199.01 589.00,198.10 590.51,198.07" fill="#222222"/>
<polygon points="595.20,196.65 595.69,198.07 597.20,198.10 596.00,199.01 596.43,200.45 595.20,199.59 593.97,200.45 594.40,199.01 593.20,198.10 594.71,198.07" fill="#222222"/>
<path d="M618.50 205.50V202.50H671.50V205.50" fill="none" stroke="#505050" stroke-width="1"/>
<polygon points="639.80,196.65 640.29,198.07 641.80,198.10 640.60,199.01 641.03,200.45 639.80,199.59 638.57,200.45 639.00,199.01 637.80,198.10 639.31,198.07" fill="#222222"/>
<polygon points="644.00,196.65 644.49,198.07 646.00,198.10 644.80,199.01 645.23,200.45 644.00,199.59 642.77,200.45 643.20,199.01 642.00,198.10 643.51,198.07" fill="#222222"/>
<polygon points="648.20,196.65 648.69,198.07 650.20,198.10 649.00,199.01 649.43,200.45 648.20,199.59 646.97,200.45 647.40,199.01 646.20,198.10 647.71,198.07" fill="#222222"/>
<path d="M593.50 212.50V209.50H642.50V212.50" fill="none" stroke="#505050" stroke-width="1"/>
<polygon points="621.50,203.65 621.99,205.07 623.50,205.10 622.30,206.01 622.73,207.45 621.50,206.59 620.27,207.45 620.70,206.01 619.50,205.10 621.01,205.07" fill="#222222"/>
<path d="M618.50 219.50V216.50H642.50V219.50" fill="none" stroke="#505050" stroke-width="1"/>
<polygon points="625.30,210.90 625.79,212.32 627.30,212.35 626.10,213.26 626.53,214.70 625.30,213.84 624.07,214.70 624.50,213.26 623.30,212.35 624.81,212.32" fill="#222222"/>
<polygon points="629.50,210.90 629.99,212.32 631.50,212.35 630.30,213.26 630.73,214.70 629.50,213.84 628.27,214.70 628.70,213.26 627.50,212.35 629.01,212.32" fill="#222222"/>
<polygon points="633.70,210.90 634.19,212.32 635.70,212.35 634.50,213.26 634.93,214.70 633.70,213.84 632.47,214.70 632.90,213.26 631.70,212.35 633.21,212.32" fill="#222222"/>
<path d="M645.50 219.50V216.50H670.50V219.50" fill="none" stroke="#505050" stroke-width="1"/>
<polygon points="657.75,210.40 658.24,211.82 659.75,211.85 658.55,212.76 658.98,214.20 657.75,213.34 656.52,214.20 656.95,212.76 655.75,211.85 657.26,211.82" fill="#222222"/>
<path d="M566.50 223.50V220.50H591.50V223.50" fill="none" stroke="#505050" stroke-width="1"/>
<polygon points="576.65,214.40 577.14,215.82 578.65,215.85 577.45,216.76 577.88,218.20 576.65,217.34 575.42,218.20 575.85,216.76 574.65,215.85 576.16,215.82" fill="#222222"/>
<polygon points="580.85,214.40 581.34,215.82 582.85,215.85 581.65,216.76 582.08,218.20 580.85,217.34 579.62,218.20 580.05,216.76 578.85,215.85 580.36,215.82" fill="#222222"/>
<path d="M592.50 231.50V228.50H618.50V231.50" fill="none" stroke="#505050" stroke-width="1"/>
<polygon points="600.80,222.65 601.29,224.07 602.80,224.10 601.60,225.01 602.03,226.45 600.80,225.59 599.57,226.45 600.00,225.01 598.80,224.10 600.31,224.07" fill="#222222"/>
<polygon points="605.00,222.65 605.49,224.07 607.00,224.10 605.80,225.01 606.23,226.45 605.00,225.59 603.77,226.45 604.20,225.01 603.00,224.10 604.51,224.07" fill="#222222"/>
<polygon points="609.20,222.65 609.69,224.07 611.20,224.10 610.00,225.01 610.43,226.45 609.20,225.59 607.97,226.45 608.40,225.01 607.20,224.10 608.71,224.07" fill="#222222"/>
<text transform="translate(543.25,219.20) scale(0.98,1)" font-size="8.8" text-anchor="end" font-weight="normal" fill="#1a1a1a" >150</text>
<text transform="translate(543.25,268.20) scale(0.98,1)" font-size="8.8" text-anchor="end" font-weight="normal" fill="#1a1a1a" >130</text>
<text transform="translate(543.25,317.70) scale(0.98,1)" font-size="8.8" text-anchor="end" font-weight="normal" fill="#1a1a1a" >110</text>
<text transform="translate(524.00,250.00) rotate(-90) scale(1.067,1)" font-size="8.0" text-anchor="middle" font-weight="bold" fill="#1a1a1a" stroke="#1a1a1a" stroke-width="0.22">Stride Length (cm)</text>
<text transform="translate(565.50,330.20) scale(1.061,1)" font-size="8.85" text-anchor="middle" font-weight="bold" fill="#1a1a1a" stroke="#1a1a1a" stroke-width="0.22">NW</text>
<text transform="translate(591.75,330.20) scale(0.834,1)" font-size="8.85" text-anchor="middle" font-weight="bold" fill="#1a1a1a" stroke="#1a1a1a" stroke-width="0.22">C_R</text>
<text transform="translate(618.50,330.20) scale(0.911,1)" font-size="8.85" text-anchor="middle" font-weight="bold" fill="#1a1a1a" stroke="#1a1a1a" stroke-width="0.22">N_R</text>
<text transform="translate(644.50,330.20) scale(0.858,1)" font-size="8.85" text-anchor="middle" font-weight="bold" fill="#1a1a1a" stroke="#1a1a1a" stroke-width="0.22">P_R</text>
<text transform="translate(671.25,330.20) scale(0.925,1)" font-size="8.85" text-anchor="middle" font-weight="bold" fill="#1a1a1a" stroke="#1a1a1a" stroke-width="0.22">PN_R</text>
<line x1="37.50" y1="413.50" x2="166.25" y2="413.50" stroke="#e6e6e6" stroke-width="1"/>
<line x1="37.50" y1="439.50" x2="166.25" y2="439.50" stroke="#e6e6e6" stroke-width="1"/>
<line x1="37.50" y1="466.50" x2="166.25" y2="466.50" stroke="#e6e6e6" stroke-width="1"/>
<line x1="37.50" y1="492.50" x2="166.25" y2="492.50" stroke="#e6e6e6" stroke-width="1"/>
<rect x="95.25" y="446.50" width="13.00" height="6.50" fill="#5b9bd5"/>
<rect x="121.25" y="435.00" width="13.00" height="18.00" fill="#5b9bd5"/>
<rect x="147.00" y="434.75" width="13.00" height="18.25" fill="#5b9bd5"/>
<line x1="50.25" y1="442.25" x2="50.25" y2="463.75" stroke="#cfcfcf" stroke-width="0.9"/>
<line x1="49.00" y1="442.50" x2="51.50" y2="442.50" stroke="#bdbdbd" stroke-width="1"/>
<line x1="49.00" y1="463.50" x2="51.50" y2="463.50" stroke="#bdbdbd" stroke-width="1"/>
<line x1="76.00" y1="442.25" x2="76.00" y2="463.75" stroke="#cfcfcf" stroke-width="0.9"/>
<line x1="74.75" y1="442.50" x2="77.25" y2="442.50" stroke="#bdbdbd" stroke-width="1"/>
<line x1="74.75" y1="463.50" x2="77.25" y2="463.50" stroke="#bdbdbd" stroke-width="1"/>
<line x1="101.50" y1="429.75" x2="101.50" y2="461.50" stroke="#303030" stroke-opacity="0.42" stroke-width="0.9"/>
<line x1="100.25" y1="429.50" x2="102.75" y2="429.50" stroke="#202020" stroke-opacity="0.65" stroke-width="1"/>
<line x1="100.25" y1="461.50" x2="102.75" y2="461.50" stroke="#202020" stroke-opacity="0.65" stroke-width="1"/>
<line x1="127.25" y1="420.50" x2="127.25" y2="449.75" stroke="#303030" stroke-opacity="0.42" stroke-width="0.9"/>
<line x1="126.00" y1="420.50" x2="128.50" y2="420.50" stroke="#202020" stroke-opacity="0.65" stroke-width="1"/>
<line x1="126.00" y1="449.50" x2="128.50" y2="449.50" stroke="#202020" stroke-opacity="0.65" stroke-width="1"/>
<line x1="153.50" y1="422.25" x2="153.50" y2="447.25" stroke="#303030" stroke-opacity="0.42" stroke-width="0.9"/>
<line x1="152.25" y1="422.50" x2="154.75" y2="422.50" stroke="#202020" stroke-opacity="0.65" stroke-width="1"/>
<line x1="152.25" y1="447.50" x2="154.75" y2="447.50" stroke="#202020" stroke-opacity="0.65" stroke-width="1"/>
<rect x="37.50" y="386.50" width="129.00" height="133.00" fill="none" stroke="#7f7f7f" stroke-width="1"/>
<line x1="37.50" y1="386.25" x2="37.50" y2="520.00" stroke="#141414" stroke-width="1"/>
<line x1="37.00" y1="519.50" x2="166.75" y2="519.50" stroke="#404040" stroke-width="1"/>
<line x1="37.50" y1="453.50" x2="166.25" y2="453.50" stroke="#222222" stroke-width="1"/>
<path d="M51.50 390.50V387.50H154.50V390.50" fill="none" stroke="#505050" stroke-width="1"/>
<polygon points="100.45,382.10 101.01,383.72 102.73,383.76 101.36,384.80 101.86,386.44 100.45,385.46 99.04,386.44 99.54,384.80 98.17,383.76 99.89,383.72" fill="#222222"/>
<polygon points="105.25,382.10 105.81,383.72 107.53,383.76 106.16,384.80 106.66,386.44 105.25,385.46 103.84,386.44 104.34,384.80 102.97,383.76 104.69,383.72" fill="#222222"/>
<polygon points="110.05,382.10 110.61,383.72 112.33,383.76 110.96,384.80 111.46,386.44 110.05,385.46 108.64,386.44 109.14,384.80 107.77,383.76 109.49,383.72" fill="#222222"/>
<path d="M51.50 398.50V395.50H127.50V398.50" fill="none" stroke="#505050" stroke-width="1"/>
<polygon points="81.45,389.85 82.01,391.47 83.73,391.51 82.36,392.55 82.86,394.19 81.45,393.21 80.04,394.19 80.54,392.55 79.17,391.51 80.89,391.47" fill="#222222"/>
<polygon points="86.25,389.85 86.81,391.47 88.53,391.51 87.16,392.55 87.66,394.19 86.25,393.21 84.84,394.19 85.34,392.55 83.97,391.51 85.69,391.47" fill="#222222"/>
<polygon points="91.05,389.85 91.61,391.47 93.33,391.51 91.96,392.55 92.46,394.19 91.05,393.21 89.64,394.19 90.14,392.55 88.77,391.51 90.49,391.47" fill="#222222"/>
<path d="M77.50 404.50V401.50H154.50V404.50" fill="none" stroke="#505050" stroke-width="1"/>
<polygon points="109.45,395.35 110.01,396.97 111.73,397.01 110.36,398.05 110.86,399.69 109.45,398.71 108.04,399.69 108.54,398.05 107.17,397.01 108.89,396.97" fill="#222222"/>
<polygon points="114.25,395.35 114.81,396.97 116.53,397.01 115.16,398.05 115.66,399.69 114.25,398.71 112.84,399.69 113.34,398.05 111.97,397.01 113.69,396.97" fill="#222222"/>
<polygon points="119.05,395.35 119.61,396.97 121.33,397.01 119.96,398.05 120.46,399.69 119.05,398.71 117.64,399.69 118.14,398.05 116.77,397.01 118.49,396.97" fill="#222222"/>
<path d="M77.50 410.50V407.50H127.50V410.50" fill="none" stroke="#505050" stroke-width="1"/>
<polygon points="97.20,401.10 97.76,402.72 99.48,402.76 98.11,403.80 98.61,405.44 97.20,404.46 95.79,405.44 96.29,403.80 94.92,402.76 96.64,402.72" fill="#222222"/>
<polygon points="102.00,401.10 102.56,402.72 104.28,402.76 102.91,403.80 103.41,405.44 102.00,404.46 100.59,405.44 101.09,403.80 99.72,402.76 101.44,402.72" fill="#222222"/>
<polygon points="106.80,401.10 107.36,402.72 109.08,402.76 107.71,403.80 108.21,405.44 106.80,404.46 105.39,405.44 105.89,403.80 104.52,402.76 106.24,402.72" fill="#222222"/>
<path d="M102.50 414.50V411.50H154.50V414.50" fill="none" stroke="#505050" stroke-width="1"/>
<polygon points="131.10,405.35 131.66,406.97 133.38,407.01 132.01,408.05 132.51,409.69 131.10,408.71 129.69,409.69 130.19,408.05 128.82,407.01 130.54,406.97" fill="#222222"/>
<polygon points="135.90,405.35 136.46,406.97 138.18,407.01 136.81,408.05 137.31,409.69 135.90,408.71 134.49,409.69 134.99,408.05 133.62,407.01 135.34,406.97" fill="#222222"/>
<path d="M102.50 419.50V416.50H127.50V419.50" fill="none" stroke="#505050" stroke-width="1"/>
<polygon points="114.75,411.35 115.31,412.97 117.03,413.01 115.66,414.05 116.16,415.69 114.75,414.71 113.34,415.69 113.84,414.05 112.47,413.01 114.19,412.97" fill="#222222"/>
<path d="M76.50 430.50V427.50H101.50V430.50" fill="none" stroke="#505050" stroke-width="1"/>
<polygon points="89.25,421.10 89.81,422.72 91.53,422.76 90.16,423.80 90.66,425.44 89.25,424.46 87.84,425.44 88.34,423.80 86.97,422.76 88.69,422.72" fill="#222222"/>
<text transform="translate(28.25,389.95) scale(0.96,1)" font-size="8.8" text-anchor="end" font-weight="bold" fill="#1a1a1a" stroke="#1a1a1a" stroke-width="0.12">0.15</text>
<text transform="translate(28.25,416.45) scale(0.96,1)" font-size="8.8" text-anchor="end" font-weight="bold" fill="#1a1a1a" stroke="#1a1a1a" stroke-width="0.12">0.09</text>
<text transform="translate(28.25,442.95) scale(0.96,1)" font-size="8.8" text-anchor="end" font-weight="bold" fill="#1a1a1a" stroke="#1a1a1a" stroke-width="0.12">0.03</text>
<text transform="translate(28.25,469.45) scale(0.96,1)" font-size="8.8" text-anchor="end" font-weight="bold" fill="#1a1a1a" stroke="#1a1a1a" stroke-width="0.12">-0.03</text>
<text transform="translate(28.25,495.95) scale(0.96,1)" font-size="8.8" text-anchor="end" font-weight="bold" fill="#1a1a1a" stroke="#1a1a1a" stroke-width="0.12">-0.09</text>
<text transform="translate(28.25,522.45) scale(0.96,1)" font-size="8.8" text-anchor="end" font-weight="bold" fill="#1a1a1a" stroke="#1a1a1a" stroke-width="0.12">-0.15</text>
<text transform="translate(6.25,453.80) rotate(-90) scale(1.023,1)" font-size="8.0" text-anchor="middle" font-weight="bold" fill="#1a1a1a" stroke="#1a1a1a" stroke-width="0.22">SLS Ratio</text>
<text transform="translate(50.25,535.10) scale(1.061,1)" font-size="8.85" text-anchor="middle" font-weight="bold" fill="#1a1a1a" stroke="#1a1a1a" stroke-width="0.22">NW</text>
<text transform="translate(76.00,535.10) scale(0.821,1)" font-size="8.85" text-anchor="middle" font-weight="bold" fill="#1a1a1a" stroke="#1a1a1a" stroke-width="0.22">C_L</text>
<text transform="translate(101.50,535.10) scale(0.89,1)" font-size="8.85" text-anchor="middle" font-weight="bold" fill="#1a1a1a" stroke="#1a1a1a" stroke-width="0.22">N_L</text>
<text transform="translate(127.25,535.10) scale(0.827,1)" font-size="8.85" text-anchor="middle" font-weight="bold" fill="#1a1a1a" stroke="#1a1a1a" stroke-width="0.22">P_L</text>
<text transform="translate(153.50,535.10) scale(0.883,1)" font-size="8.85" text-anchor="middle" font-weight="bold" fill="#1a1a1a" stroke="#1a1a1a" stroke-width="0.22">PN_L</text>
<line x1="210.50" y1="413.50" x2="339.00" y2="413.50" stroke="#e6e6e6" stroke-width="1"/>
<line x1="210.50" y1="439.50" x2="339.00" y2="439.50" stroke="#e6e6e6" stroke-width="1"/>
<line x1="210.50" y1="466.50" x2="339.00" y2="466.50" stroke="#e6e6e6" stroke-width="1"/>
<line x1="210.50" y1="492.50" x2="339.00" y2="492.50" stroke="#e6e6e6" stroke-width="1"/>
<rect x="268.25" y="443.00" width="13.00" height="10.00" fill="#ed7d31"/>
<rect x="294.25" y="436.00" width="12.75" height="17.00" fill="#ed7d31"/>
<rect x="320.00" y="438.00" width="12.75" height="15.00" fill="#ed7d31"/>
<line x1="223.25" y1="442.25" x2="223.25" y2="463.75" stroke="#cfcfcf" stroke-width="0.9"/>
<line x1="222.00" y1="442.50" x2="224.50" y2="442.50" stroke="#bdbdbd" stroke-width="1"/>
<line x1="222.00" y1="463.50" x2="224.50" y2="463.50" stroke="#bdbdbd" stroke-width="1"/>
<line x1="248.50" y1="443.00" x2="248.50" y2="462.50" stroke="#cfcfcf" stroke-width="0.9"/>
<line x1="247.25" y1="443.50" x2="249.75" y2="443.50" stroke="#bdbdbd" stroke-width="1"/>
<line x1="247.25" y1="462.50" x2="249.75" y2="462.50" stroke="#bdbdbd" stroke-width="1"/>
<line x1="274.75" y1="429.00" x2="274.75" y2="456.25" stroke="#303030" stroke-opacity="0.42" stroke-width="0.9"/>
<line x1="273.50" y1="429.50" x2="276.00" y2="429.50" stroke="#202020" stroke-opacity="0.65" stroke-width="1"/>
<line x1="273.50" y1="456.50" x2="276.00" y2="456.50" stroke="#202020" stroke-opacity="0.65" stroke-width="1"/>
<line x1="300.50" y1="421.25" x2="300.50" y2="450.00" stroke="#303030" stroke-opacity="0.42" stroke-width="0.9"/>
<line x1="299.25" y1="421.50" x2="301.75" y2="421.50" stroke="#202020" stroke-opacity="0.65" stroke-width="1"/>
<line x1="299.25" y1="450.50" x2="301.75" y2="450.50" stroke="#202020" stroke-opacity="0.65" stroke-width="1"/>
<line x1="326.25" y1="422.25" x2="326.25" y2="453.00" stroke="#303030" stroke-opacity="0.42" stroke-width="0.9"/>
<line x1="325.00" y1="422.50" x2="327.50" y2="422.50" stroke="#202020" stroke-opacity="0.65" stroke-width="1"/>
<line x1="325.00" y1="453.50" x2="327.50" y2="453.50" stroke="#202020" stroke-opacity="0.65" stroke-width="1"/>
<rect x="210.50" y="386.50" width="129.00" height="133.00" fill="none" stroke="#7f7f7f" stroke-width="1"/>
<line x1="210.50" y1="386.25" x2="210.50" y2="520.00" stroke="#141414" stroke-width="1"/>
<line x1="210.00" y1="519.50" x2="339.50" y2="519.50" stroke="#404040" stroke-width="1"/>
<line x1="210.50" y1="453.50" x2="339.00" y2="453.50" stroke="#222222" stroke-width="1"/>
<path d="M224.50 396.50V393.50H327.50V396.50" fill="none" stroke="#505050" stroke-width="1"/>
<polygon points="273.20,387.60 273.76,389.22 275.48,389.26 274.11,390.30 274.61,391.94 273.20,390.96 271.79,391.94 272.29,390.30 270.92,389.26 272.64,389.22" fill="#222222"/>
<polygon points="278.00,387.60 278.56,389.22 280.28,389.26 278.91,390.30 279.41,391.94 278.00,390.96 276.59,391.94 277.09,390.30 275.72,389.26 277.44,389.22" fill="#222222"/>
<polygon points="282.80,387.60 283.36,389.22 285.08,389.26 283.71,390.30 284.21,391.94 282.80,390.96 281.39,391.94 281.89,390.30 280.52,389.26 282.24,389.22" fill="#222222"/>
<path d="M224.50 402.50V399.50H300.50V402.50" fill="none" stroke="#505050" stroke-width="1"/>
<polygon points="253.95,394.00 254.51,395.62 256.23,395.66 254.86,396.70 255.36,398.34 253.95,397.36 252.54,398.34 253.04,396.70 251.67,395.66 253.39,395.62" fill="#222222"/>
<polygon points="258.75,394.00 259.31,395.62 261.03,395.66 259.66,396.70 260.16,398.34 258.75,397.36 257.34,398.34 257.84,396.70 256.47,395.66 258.19,395.62" fill="#222222"/>
<polygon points="263.55,394.00 264.11,395.62 265.83,395.66 264.46,396.70 264.96,398.34 263.55,397.36 262.14,398.34 262.64,396.70 261.27,395.66 262.99,395.62" fill="#222222"/>
<path d="M224.50 410.50V407.50H274.50V410.50" fill="none" stroke="#505050" stroke-width="1"/>
<polygon points="246.10,401.85 246.66,403.47 248.38,403.51 247.01,404.55 247.51,406.19 246.10,405.21 244.69,406.19 245.19,404.55 243.82,403.51 245.54,403.47" fill="#222222"/>
<polygon points="250.90,401.85 251.46,403.47 253.18,403.51 251.81,404.55 252.31,406.19 250.90,405.21 249.49,406.19 249.99,404.55 248.62,403.51 250.34,403.47" fill="#222222"/>
<path d="M250.50 415.50V412.50H326.50V415.50" fill="none" stroke="#505050" stroke-width="1"/>
<polygon points="282.70,406.60 283.26,408.22 284.98,408.26 283.61,409.30 284.11,410.94 282.70,409.96 281.29,410.94 281.79,409.30 280.42,408.26 282.14,408.22" fill="#222222"/>
<polygon points="287.50,406.60 288.06,408.22 289.78,408.26 288.41,409.30 288.91,410.94 287.50,409.96 286.09,410.94 286.59,409.30 285.22,408.26 286.94,408.22" fill="#222222"/>
<polygon points="292.30,406.60 292.86,408.22 294.58,408.26 293.21,409.30 293.71,410.94 292.30,409.96 290.89,410.94 291.39,409.30 290.02,408.26 291.74,408.22" fill="#222222"/>
<path d="M250.50 421.50V418.50H300.50V421.50" fill="none" stroke="#505050" stroke-width="1"/>
<polygon points="270.45,412.85 271.01,414.47 272.73,414.51 271.36,415.55 271.86,417.19 270.45,416.21 269.04,417.19 269.54,415.55 268.17,414.51 269.89,414.47" fill="#222222"/>
<polygon points="275.25,412.85 275.81,414.47 277.53,414.51 276.16,415.55 276.66,417.19 275.25,416.21 273.84,417.19 274.34,415.55 272.97,414.51 274.69,414.47" fill="#222222"/>
<polygon points="280.05,412.85 280.61,414.47 282.33,414.51 280.96,415.55 281.46,417.19 280.05,416.21 278.64,417.19 279.14,415.55 277.77,414.51 279.49,414.47" fill="#222222"/>
<path d="M250.50 428.50V425.50H275.50V428.50" fill="none" stroke="#505050" stroke-width="1"/>
<polygon points="259.60,419.85 260.16,421.47 261.88,421.51 260.51,422.55 261.01,424.19 259.60,423.21 258.19,424.19 258.69,422.55 257.32,421.51 259.04,421.47" fill="#222222"/>
<polygon points="264.40,419.85 264.96,421.47 266.68,421.51 265.31,422.55 265.81,424.19 264.40,423.21 262.99,424.19 263.49,422.55 262.12,421.51 263.84,421.47" fill="#222222"/>
<text transform="translate(201.60,389.95) scale(0.96,1)" font-size="8.8" text-anchor="end" font-weight="bold" fill="#1a1a1a" stroke="#1a1a1a" stroke-width="0.12">0.15</text>
<text transform="translate(201.60,416.45) scale(0.96,1)" font-size="8.8" text-anchor="end" font-weight="bold" fill="#1a1a1a" stroke="#1a1a1a" stroke-width="0.12">0.09</text>
<text transform="translate(201.60,442.95) scale(0.96,1)" font-size="8.8" text-anchor="end" font-weight="bold" fill="#1a1a1a" stroke="#1a1a1a" stroke-width="0.12">0.03</text>
<text transform="translate(201.60,469.45) scale(0.96,1)" font-size="8.8" text-anchor="end" font-weight="bold" fill="#1a1a1a" stroke="#1a1a1a" stroke-width="0.12">-0.03</text>
<text transform="translate(201.60,495.95) scale(0.96,1)" font-size="8.8" text-anchor="end" font-weight="bold" fill="#1a1a1a" stroke="#1a1a1a" stroke-width="0.12">-0.09</text>
<text transform="translate(201.60,522.45) scale(0.96,1)" font-size="8.8" text-anchor="end" font-weight="bold" fill="#1a1a1a" stroke="#1a1a1a" stroke-width="0.12">-0.15</text>
<text transform="translate(179.50,453.20) rotate(-90) scale(1.023,1)" font-size="8.0" text-anchor="middle" font-weight="bold" fill="#1a1a1a" stroke="#1a1a1a" stroke-width="0.22">SLS Ratio</text>
<text transform="translate(223.25,535.20) scale(1.061,1)" font-size="8.85" text-anchor="middle" font-weight="bold" fill="#1a1a1a" stroke="#1a1a1a" stroke-width="0.22">NW</text>
<text transform="translate(248.50,535.20) scale(0.834,1)" font-size="8.85" text-anchor="middle" font-weight="bold" fill="#1a1a1a" stroke="#1a1a1a" stroke-width="0.22">C_R</text>
<text transform="translate(274.75,535.20) scale(0.911,1)" font-size="8.85" text-anchor="middle" font-weight="bold" fill="#1a1a1a" stroke="#1a1a1a" stroke-width="0.22">N_R</text>
<text transform="translate(300.50,535.20) scale(0.858,1)" font-size="8.85" text-anchor="middle" font-weight="bold" fill="#1a1a1a" stroke="#1a1a1a" stroke-width="0.22">P_R</text>
<text transform="translate(326.25,535.20) scale(0.925,1)" font-size="8.85" text-anchor="middle" font-weight="bold" fill="#1a1a1a" stroke="#1a1a1a" stroke-width="0.22">PN_R</text>
<line x1="381.25" y1="419.50" x2="511.80" y2="419.50" stroke="#e6e6e6" stroke-width="1"/>
<line x1="381.25" y1="485.50" x2="511.80" y2="485.50" stroke="#e6e6e6" stroke-width="1"/>
<rect x="388.00" y="451.00" width="13.00" height="1.25" fill="#5b9bd5"/>
<rect x="414.00" y="452.25" width="13.00" height="2.75" fill="#5b9bd5"/>
<rect x="440.00" y="452.25" width="13.00" height="10.75" fill="#5b9bd5"/>
<rect x="466.00" y="452.25" width="13.00" height="9.00" fill="#5b9bd5"/>
<rect x="492.25" y="452.25" width="13.00" height="11.50" fill="#5b9bd5"/>
<line x1="394.50" y1="430.25" x2="394.50" y2="471.50" stroke="#303030" stroke-opacity="0.42" stroke-width="0.9"/>
<line x1="393.25" y1="430.50" x2="395.75" y2="430.50" stroke="#202020" stroke-opacity="0.65" stroke-width="1"/>
<line x1="393.25" y1="471.50" x2="395.75" y2="471.50" stroke="#202020" stroke-opacity="0.65" stroke-width="1"/>
<line x1="420.50" y1="440.25" x2="420.50" y2="470.25" stroke="#303030" stroke-opacity="0.42" stroke-width="0.9"/>
<line x1="419.25" y1="440.50" x2="421.75" y2="440.50" stroke="#202020" stroke-opacity="0.65" stroke-width="1"/>
<line x1="419.25" y1="470.50" x2="421.75" y2="470.50" stroke="#202020" stroke-opacity="0.65" stroke-width="1"/>
<line x1="446.50" y1="434.50" x2="446.50" y2="491.75" stroke="#303030" stroke-opacity="0.42" stroke-width="0.9"/>
<line x1="445.25" y1="434.50" x2="447.75" y2="434.50" stroke="#202020" stroke-opacity="0.65" stroke-width="1"/>
<line x1="445.25" y1="491.50" x2="447.75" y2="491.50" stroke="#202020" stroke-opacity="0.65" stroke-width="1"/>
<line x1="472.50" y1="433.50" x2="472.50" y2="489.25" stroke="#303030" stroke-opacity="0.42" stroke-width="0.9"/>
<line x1="471.25" y1="433.50" x2="473.75" y2="433.50" stroke="#202020" stroke-opacity="0.65" stroke-width="1"/>
<line x1="471.25" y1="489.50" x2="473.75" y2="489.50" stroke="#202020" stroke-opacity="0.65" stroke-width="1"/>
<line x1="498.75" y1="433.25" x2="498.75" y2="494.75" stroke="#303030" stroke-opacity="0.42" stroke-width="0.9"/>
<line x1="497.50" y1="433.50" x2="500.00" y2="433.50" stroke="#202020" stroke-opacity="0.65" stroke-width="1"/>
<line x1="497.50" y1="494.50" x2="500.00" y2="494.50" stroke="#202020" stroke-opacity="0.65" stroke-width="1"/>
<rect x="381.50" y="385.50" width="130.00" height="134.00" fill="none" stroke="#7f7f7f" stroke-width="1"/>
<line x1="381.50" y1="385.25" x2="381.50" y2="520.00" stroke="#141414" stroke-width="1"/>
<line x1="381.00" y1="519.50" x2="512.30" y2="519.50" stroke="#404040" stroke-width="1"/>
<line x1="381.50" y1="452.50" x2="511.80" y2="452.50" stroke="#222222" stroke-width="1"/>
<text transform="translate(372.25,388.95) scale(0.96,1)" font-size="8.8" text-anchor="end" font-weight="bold" fill="#1a1a1a" stroke="#1a1a1a" stroke-width="0.12">0.06</text>
<text transform="translate(372.25,422.45) scale(0.96,1)" font-size="8.8" text-anchor="end" font-weight="bold" fill="#1a1a1a" stroke="#1a1a1a" stroke-width="0.12">0.03</text>
<text transform="translate(372.25,455.45) scale(0.96,1)" font-size="8.8" text-anchor="end" font-weight="bold" fill="#1a1a1a" stroke="#1a1a1a" stroke-width="0.12">0.00</text>
<text transform="translate(372.25,488.70) scale(0.96,1)" font-size="8.8" text-anchor="end" font-weight="bold" fill="#1a1a1a" stroke="#1a1a1a" stroke-width="0.12">-0.03</text>
<text transform="translate(372.25,522.20) scale(0.96,1)" font-size="8.8" text-anchor="end" font-weight="bold" fill="#1a1a1a" stroke="#1a1a1a" stroke-width="0.12">-0.06</text>
<text transform="translate(351.50,452.20) rotate(-90) scale(1.111,1)" font-size="8.0" text-anchor="middle" font-weight="bold" fill="#1a1a1a" stroke="#1a1a1a" stroke-width="0.22">SWS Ratio</text>
<text transform="translate(394.50,534.95) scale(1.061,1)" font-size="8.85" text-anchor="middle" font-weight="bold" fill="#1a1a1a" stroke="#1a1a1a" stroke-width="0.22">NW</text>
<text transform="translate(420.50,534.95) scale(0.821,1)" font-size="8.85" text-anchor="middle" font-weight="bold" fill="#1a1a1a" stroke="#1a1a1a" stroke-width="0.22">C_L</text>
<text transform="translate(446.50,534.95) scale(0.89,1)" font-size="8.85" text-anchor="middle" font-weight="bold" fill="#1a1a1a" stroke="#1a1a1a" stroke-width="0.22">N_L</text>
<text transform="translate(472.50,534.95) scale(0.827,1)" font-size="8.85" text-anchor="middle" font-weight="bold" fill="#1a1a1a" stroke="#1a1a1a" stroke-width="0.22">P_L</text>
<text transform="translate(498.75,534.95) scale(0.883,1)" font-size="8.85" text-anchor="middle" font-weight="bold" fill="#1a1a1a" stroke="#1a1a1a" stroke-width="0.22">PN_L</text>
<line x1="554.75" y1="418.50" x2="684.50" y2="418.50" stroke="#e6e6e6" stroke-width="1"/>
<line x1="554.75" y1="485.50" x2="684.50" y2="485.50" stroke="#e6e6e6" stroke-width="1"/>
<rect x="561.25" y="451.00" width="13.00" height="1.00" fill="#ed7d31"/>
<rect x="587.25" y="452.00" width="13.00" height="1.00" fill="#ed7d31"/>
<rect x="613.25" y="452.00" width="13.00" height="13.75" fill="#ed7d31"/>
<rect x="639.25" y="452.00" width="13.00" height="9.50" fill="#ed7d31"/>
<rect x="665.25" y="452.00" width="12.75" height="20.75" fill="#ed7d31"/>
<line x1="567.75" y1="429.50" x2="567.75" y2="471.50" stroke="#303030" stroke-opacity="0.42" stroke-width="0.9"/>
<line x1="566.50" y1="429.50" x2="569.00" y2="429.50" stroke="#202020" stroke-opacity="0.65" stroke-width="1"/>
<line x1="566.50" y1="471.50" x2="569.00" y2="471.50" stroke="#202020" stroke-opacity="0.65" stroke-width="1"/>
<line x1="593.75" y1="434.25" x2="593.75" y2="471.25" stroke="#303030" stroke-opacity="0.42" stroke-width="0.9"/>
<line x1="592.50" y1="434.50" x2="595.00" y2="434.50" stroke="#202020" stroke-opacity="0.65" stroke-width="1"/>
<line x1="592.50" y1="471.50" x2="595.00" y2="471.50" stroke="#202020" stroke-opacity="0.65" stroke-width="1"/>
<line x1="619.75" y1="438.00" x2="619.75" y2="493.25" stroke="#303030" stroke-opacity="0.42" stroke-width="0.9"/>
<line x1="618.50" y1="438.50" x2="621.00" y2="438.50" stroke="#202020" stroke-opacity="0.65" stroke-width="1"/>
<line x1="618.50" y1="493.50" x2="621.00" y2="493.50" stroke="#202020" stroke-opacity="0.65" stroke-width="1"/>
<line x1="645.75" y1="431.00" x2="645.75" y2="491.50" stroke="#303030" stroke-opacity="0.42" stroke-width="0.9"/>
<line x1="644.50" y1="431.50" x2="647.00" y2="431.50" stroke="#202020" stroke-opacity="0.65" stroke-width="1"/>
<line x1="644.50" y1="491.50" x2="647.00" y2="491.50" stroke="#202020" stroke-opacity="0.65" stroke-width="1"/>
<line x1="671.75" y1="439.50" x2="671.75" y2="506.25" stroke="#303030" stroke-opacity="0.42" stroke-width="0.9"/>
<line x1="670.50" y1="439.50" x2="673.00" y2="439.50" stroke="#202020" stroke-opacity="0.65" stroke-width="1"/>
<line x1="670.50" y1="506.50" x2="673.00" y2="506.50" stroke="#202020" stroke-opacity="0.65" stroke-width="1"/>
<rect x="554.50" y="385.50" width="130.00" height="133.00" fill="none" stroke="#7f7f7f" stroke-width="1"/>
<line x1="554.50" y1="384.75" x2="554.50" y2="519.00" stroke="#141414" stroke-width="1"/>
<line x1="554.00" y1="518.50" x2="685.00" y2="518.50" stroke="#404040" stroke-width="1"/>
<line x1="554.50" y1="452.50" x2="684.50" y2="452.50" stroke="#222222" stroke-width="1"/>
<path d="M568.50 415.50V412.50H671.50V415.50" fill="none" stroke="#505050" stroke-width="1"/>
<polygon points="619.50,406.65 620.05,408.24 621.73,408.27 620.39,409.29 620.88,410.90 619.50,409.94 618.12,410.90 618.61,409.29 617.27,408.27 618.95,408.24" fill="#222222"/>
<path d="M594.50 426.50V423.50H671.50V426.50" fill="none" stroke="#505050" stroke-width="1"/>
<polygon points="629.35,417.15 629.90,418.74 631.58,418.77 630.24,419.79 630.73,421.40 629.35,420.44 627.97,421.40 628.46,419.79 627.12,418.77 628.80,418.74" fill="#222222"/>
<polygon points="634.65,417.15 635.20,418.74 636.88,418.77 635.54,419.79 636.03,421.40 634.65,420.44 633.27,421.40 633.76,419.79 632.42,418.77 634.10,418.74" fill="#222222"/>
<text transform="translate(545.75,388.45) scale(0.96,1)" font-size="8.8" text-anchor="end" font-weight="bold" fill="#1a1a1a" stroke="#1a1a1a" stroke-width="0.12">0.06</text>
<text transform="translate(545.75,421.70) scale(0.96,1)" font-size="8.8" text-anchor="end" font-weight="bold" fill="#1a1a1a" stroke="#1a1a1a" stroke-width="0.12">0.03</text>
<text transform="translate(545.75,455.20) scale(0.96,1)" font-size="8.8" text-anchor="end" font-weight="bold" fill="#1a1a1a" stroke="#1a1a1a" stroke-width="0.12">0.00</text>
<text transform="translate(545.75,488.70) scale(0.96,1)" font-size="8.8" text-anchor="end" font-weight="bold" fill="#1a1a1a" stroke="#1a1a1a" stroke-width="0.12">-0.03</text>
<text transform="translate(545.75,521.70) scale(0.96,1)" font-size="8.8" text-anchor="end" font-weight="bold" fill="#1a1a1a" stroke="#1a1a1a" stroke-width="0.12">-0.06</text>
<text transform="translate(523.50,452.20) rotate(-90) scale(1.111,1)" font-size="8.0" text-anchor="middle" font-weight="bold" fill="#1a1a1a" stroke="#1a1a1a" stroke-width="0.22">SWS Ratio</text>
<text transform="translate(567.75,534.70) scale(1.061,1)" font-size="8.85" text-anchor="middle" font-weight="bold" fill="#1a1a1a" stroke="#1a1a1a" stroke-width="0.22">NW</text>
<text transform="translate(593.75,534.70) scale(0.834,1)" font-size="8.85" text-anchor="middle" font-weight="bold" fill="#1a1a1a" stroke="#1a1a1a" stroke-width="0.22">C_R</text>
<text transform="translate(619.75,534.70) scale(0.911,1)" font-size="8.85" text-anchor="middle" font-weight="bold" fill="#1a1a1a" stroke="#1a1a1a" stroke-width="0.22">N_R</text>
<text transform="translate(645.75,534.70) scale(0.858,1)" font-size="8.85" text-anchor="middle" font-weight="bold" fill="#1a1a1a" stroke="#1a1a1a" stroke-width="0.22">P_R</text>
<text transform="translate(671.75,534.70) scale(0.925,1)" font-size="8.85" text-anchor="middle" font-weight="bold" fill="#1a1a1a" stroke="#1a1a1a" stroke-width="0.22">PN_R</text>
<text transform="translate(167.60,160.12)" font-size="11.5" text-anchor="middle" font-weight="bold" fill="#1a1a1a" stroke="#1a1a1a" stroke-width="0.3">(a)</text>
<text transform="translate(512.90,160.12)" font-size="11.5" text-anchor="middle" font-weight="bold" fill="#1a1a1a" stroke="#1a1a1a" stroke-width="0.3">(b)</text>
<text transform="translate(167.50,355.67)" font-size="11.5" text-anchor="middle" font-weight="bold" fill="#1a1a1a" stroke="#1a1a1a" stroke-width="0.3">(c)</text>
<text transform="translate(512.90,355.67)" font-size="11.5" text-anchor="middle" font-weight="bold" fill="#1a1a1a" stroke="#1a1a1a" stroke-width="0.3">(d)</text>
<text transform="translate(167.50,557.97)" font-size="11.5" text-anchor="middle" font-weight="bold" fill="#1a1a1a" stroke="#1a1a1a" stroke-width="0.3">(e)</text>
<text transform="translate(512.90,557.97)" font-size="11.5" text-anchor="middle" font-weight="bold" fill="#1a1a1a" stroke="#1a1a1a" stroke-width="0.3">(f)</text>
</svg>
</body></html>
